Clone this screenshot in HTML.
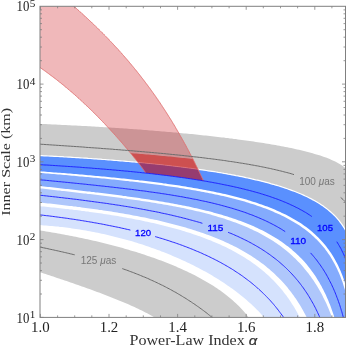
<!DOCTYPE html>
<html><head><meta charset="utf-8"><style>
html,body{margin:0;padding:0;background:#fff;width:346px;height:349px;overflow:hidden}
svg{display:block;font-family:"Liberation Sans",sans-serif;filter:blur(0.3px)}
</style></head><body>
<svg width="346" height="349" viewBox="0 0 346 349">
<rect width="346" height="349" fill="#fff"/>
<defs><clipPath id="plot"><rect x="40.0" y="6.3" width="305.5" height="311.09999999999997"/></clipPath>
<clipPath id="redclip"><polygon points="58.0,-20.0 60.0,-5.5 60.8,-4.9 61.5,-4.2 62.3,-3.6 63.1,-3.0 63.8,-2.3 64.6,-1.7 65.4,-1.0 66.1,-0.4 66.9,0.3 67.7,0.9 68.4,1.6 69.2,2.2 69.9,2.9 70.7,3.5 71.5,4.2 72.2,4.8 73.0,5.5 73.7,6.2 74.5,6.8 75.2,7.5 76.0,8.1 76.7,8.8 77.5,9.5 78.2,10.1 79.0,10.8 79.7,11.5 80.5,12.1 81.2,12.8 81.9,13.5 82.7,14.2 83.4,14.8 84.2,15.5 84.9,16.2 85.6,16.9 86.4,17.5 87.1,18.2 87.8,18.9 88.6,19.6 89.3,20.3 90.0,21.0 90.8,21.7 91.5,22.3 92.2,23.0 92.9,23.7 93.7,24.4 94.4,25.1 95.1,25.8 95.8,26.5 96.5,27.2 97.3,27.9 98.0,28.6 98.7,29.3 99.4,30.0 100.1,30.7 100.8,31.4 101.5,32.1 102.2,32.8 103.0,33.5 103.7,34.2 104.4,35.0 105.1,35.7 105.8,36.4 106.5,37.1 107.2,37.8 107.9,38.5 108.6,39.3 109.2,40.0 109.9,40.7 110.6,41.4 111.3,42.2 112.0,42.9 112.7,43.6 113.4,44.4 114.1,45.1 114.7,45.8 115.4,46.6 116.1,47.3 116.8,48.0 117.5,48.8 118.1,49.5 118.8,50.2 119.5,51.0 120.1,51.7 120.8,52.5 121.5,53.2 122.1,54.0 122.8,54.7 123.5,55.5 124.1,56.2 124.8,57.0 125.4,57.7 126.1,58.5 126.8,59.3 127.4,60.0 128.1,60.8 128.7,61.5 129.3,62.3 130.0,63.1 130.6,63.8 131.3,64.6 131.9,65.4 132.6,66.2 133.2,66.9 133.8,67.7 134.5,68.5 135.1,69.3 135.7,70.0 136.4,70.8 137.0,71.6 137.6,72.4 138.2,73.2 138.9,73.9 139.5,74.7 140.1,75.5 140.7,76.3 141.3,77.1 141.9,77.9 142.6,78.7 143.2,79.5 143.8,80.3 144.4,81.1 145.0,81.9 145.6,82.7 146.2,83.5 146.8,84.3 147.4,85.1 148.0,85.9 148.6,86.7 149.2,87.5 149.8,88.3 150.4,89.1 150.9,89.9 151.5,90.7 152.1,91.5 152.7,92.4 153.3,93.2 153.9,94.0 154.4,94.8 155.0,95.6 155.6,96.4 156.2,97.3 156.7,98.1 157.3,98.9 157.9,99.7 158.4,100.6 159.0,101.4 159.6,102.2 160.1,103.0 160.7,103.9 161.2,104.7 161.8,105.5 162.3,106.4 162.9,107.2 163.4,108.1 164.0,108.9 164.5,109.7 165.1,110.6 165.6,111.4 166.2,112.3 166.7,113.1 167.2,113.9 167.8,114.8 168.3,115.6 168.8,116.5 169.4,117.3 169.9,118.2 170.4,119.0 171.0,119.9 171.5,120.7 172.0,121.6 172.5,122.4 173.0,123.3 173.6,124.2 174.1,125.0 174.6,125.9 175.1,126.7 175.6,127.6 176.1,128.5 176.6,129.3 177.1,130.2 177.6,131.1 178.1,131.9 178.7,132.8 179.2,133.7 179.6,134.5 180.1,135.4 180.6,136.3 181.1,137.1 181.6,138.0 182.1,138.9 182.6,139.8 183.1,140.6 183.6,141.5 184.1,142.4 184.5,143.3 185.0,144.1 185.5,145.0 186.0,145.9 186.5,146.8 186.9,147.7 187.4,148.5 187.9,149.4 188.3,150.3 188.8,151.2 189.3,152.1 189.7,153.0 190.2,153.9 190.7,154.8 191.1,155.6 191.6,156.5 192.0,157.4 192.5,158.3 193.0,159.2 193.4,160.1 193.9,161.0 194.3,161.9 194.8,162.8 195.2,163.7 195.6,164.6 196.1,165.5 196.5,166.4 197.0,167.3 197.4,168.2 197.9,169.1 198.3,170.0 198.7,170.9 199.2,171.8 199.6,172.7 200.0,173.6 200.4,174.5 200.9,175.4 201.3,176.3 201.7,177.2 202.2,178.1 202.6,179.0 203.0,179.9 203.4,180.8 203.8,180.9 201.4,180.5 199.0,180.1 196.6,179.8 194.2,179.4 191.8,179.0 189.4,178.7 187.0,178.3 184.6,177.9 182.2,177.6 179.8,177.3 177.4,176.9 175.0,176.6 172.6,176.3 170.2,176.0 167.8,175.7 165.4,175.4 163.0,175.1 160.6,174.8 158.2,174.5 155.8,174.2 153.4,173.9 151.0,173.7 148.6,173.4 146.2,173.1 145.7,173.0 145.2,172.2 144.7,171.3 144.1,170.5 143.5,169.7 142.9,168.8 142.3,168.0 141.7,167.2 141.1,166.4 140.5,165.6 139.9,164.8 139.3,164.0 138.7,163.2 138.1,162.4 137.5,161.7 136.8,160.9 136.2,160.1 135.6,159.3 135.0,158.5 134.3,157.7 133.7,156.9 133.1,156.2 132.4,155.4 131.8,154.6 131.2,153.8 130.5,153.1 129.9,152.3 129.2,151.5 128.6,150.7 128.0,150.0 127.3,149.2 126.7,148.4 126.0,147.7 125.4,146.9 124.7,146.1 124.1,145.4 123.4,144.6 122.8,143.8 122.1,143.1 121.4,142.3 120.8,141.6 120.1,140.8 119.5,140.0 118.8,139.3 118.1,138.5 117.5,137.8 116.8,137.0 116.1,136.3 115.5,135.5 114.8,134.8 114.1,134.0 113.5,133.3 112.8,132.6 112.1,131.8 111.4,131.1 110.7,130.3 110.1,129.6 109.4,128.8 108.7,128.1 108.0,127.4 107.3,126.6 106.6,125.9 106.0,125.2 105.3,124.4 104.6,123.7 103.9,123.0 103.2,122.3 102.5,121.5 101.8,120.8 101.1,120.1 100.4,119.4 99.7,118.7 99.0,117.9 98.3,117.2 97.6,116.5 96.9,115.8 96.2,115.1 95.5,114.4 94.8,113.7 94.0,112.9 93.3,112.2 92.6,111.5 91.9,110.8 91.2,110.1 90.5,109.4 89.7,108.7 89.0,108.0 88.3,107.3 87.6,106.6 86.8,105.9 86.1,105.3 85.4,104.6 84.7,103.9 83.9,103.2 83.2,102.5 82.5,101.8 81.7,101.1 81.0,100.5 80.2,99.8 79.5,99.1 78.8,98.4 78.0,97.8 77.3,97.1 76.5,96.4 75.8,95.7 75.0,95.1 74.3,94.4 73.5,93.7 72.8,93.1 72.0,92.4 71.2,91.8 70.5,91.1 69.7,90.5 69.0,89.8 68.2,89.2 67.4,88.5 66.6,87.9 65.9,87.2 65.1,86.6 64.3,85.9 63.6,85.3 62.8,84.7 62.0,84.0 61.2,83.4 60.4,82.8 59.7,82.1 58.9,81.5 58.1,80.9 57.3,80.3 56.5,79.6 55.7,79.0 54.9,78.4 54.1,77.8 53.3,77.2 52.5,76.6 51.7,76.0 50.9,75.4 50.1,74.8 49.3,74.2 48.5,73.6 47.7,73.0 46.9,72.4 46.1,71.8 45.3,71.2 44.4,70.6 43.6,70.0 42.8,69.5 42.0,68.9 41.2,68.3 40.3,67.7 39.5,67.2 38.7,66.6 37.9,66.0 37.0,65.5 36.2,64.9 35.4,64.3 34.5,63.8 33.7,63.2 32.8,62.7 32.0,62.1 31.1,61.6 30.3,61.1 29.5,60.5 28.6,60.0 27.7,59.5 26.9,58.9 26.0,58.4 25.2,57.9 24.3,57.4 23.5,56.8 22.6,56.3 21.7,55.8 20.9,55.3 20.0,54.8 20.0,54.8 20.0,-20.0"/></clipPath></defs>
<g clip-path="url(#plot)">
<polygon points="36.0,123.7 38.0,123.8 40.0,123.9 42.0,124.0 44.0,124.0 46.0,124.1 48.0,124.2 50.0,124.3 52.0,124.4 54.0,124.5 56.0,124.6 58.0,124.7 60.0,124.8 62.0,124.9 64.0,125.0 66.0,125.1 68.0,125.2 70.0,125.3 72.0,125.4 74.0,125.5 76.1,125.6 78.1,125.7 80.1,125.8 82.1,125.9 84.1,126.0 86.1,126.1 88.1,126.2 90.1,126.3 92.1,126.4 94.1,126.6 96.1,126.7 98.1,126.8 100.1,126.9 102.1,127.0 104.1,127.2 106.1,127.3 108.1,127.4 110.1,127.5 112.1,127.7 114.1,127.8 116.1,127.9 118.1,128.1 120.1,128.2 122.1,128.3 124.1,128.5 126.1,128.6 128.1,128.7 130.1,128.9 132.1,129.0 134.1,129.2 136.1,129.3 138.1,129.5 140.1,129.6 142.1,129.8 144.1,129.9 146.1,130.1 148.1,130.2 150.1,130.4 152.1,130.6 154.1,130.7 156.1,130.9 158.1,131.0 160.1,131.2 162.1,131.4 164.1,131.5 166.0,131.7 168.0,131.9 170.0,132.1 172.0,132.2 174.0,132.4 176.0,132.6 178.0,132.8 180.0,133.0 182.0,133.2 184.0,133.4 186.0,133.5 188.0,133.7 190.0,133.9 192.0,134.1 194.0,134.3 196.0,134.5 198.0,134.7 200.0,134.9 202.0,135.2 204.0,135.4 206.0,135.6 207.9,135.8 209.9,136.0 211.9,136.2 213.9,136.5 215.9,136.7 217.9,136.9 219.9,137.2 221.9,137.4 223.9,137.6 225.9,137.9 227.9,138.1 229.9,138.4 231.8,138.6 233.8,138.9 235.8,139.1 237.8,139.4 239.8,139.7 241.8,139.9 243.8,140.2 245.8,140.5 247.7,140.7 249.7,141.0 251.7,141.3 253.7,141.6 255.7,141.9 257.7,142.2 259.6,142.5 261.6,142.8 263.6,143.1 265.6,143.4 267.6,143.8 269.5,144.1 271.5,144.4 273.5,144.8 275.5,145.1 277.4,145.5 279.4,145.8 281.4,146.2 283.3,146.6 285.3,146.9 287.3,147.3 289.2,147.7 291.2,148.1 293.2,148.5 295.1,149.0 297.1,149.4 299.0,149.8 301.0,150.3 302.9,150.8 304.9,151.2 306.8,151.7 308.8,152.2 310.7,152.8 312.6,153.3 314.6,153.9 316.5,154.4 318.4,155.0 320.3,155.6 322.2,156.3 324.1,156.9 326.0,157.6 327.9,158.3 329.7,159.1 331.6,159.9 333.4,160.7 335.2,161.6 337.0,162.5 338.7,163.5 340.5,164.5 342.1,165.6 343.8,166.7 345.3,168.0 346.9,169.3 348.3,170.7 349.6,172.2 350.9,173.8 352.0,175.4 362.0,430.0 352.0,245.5 351.4,243.6 350.7,241.7 350.0,239.8 349.3,238.0 348.5,236.1 347.6,234.3 346.7,232.5 345.8,230.7 344.8,229.0 343.8,227.3 342.7,225.6 341.5,223.9 340.3,222.3 339.1,220.7 337.8,219.2 336.5,217.7 335.1,216.2 333.7,214.8 332.2,213.4 330.7,212.0 329.2,210.7 327.6,209.4 326.1,208.2 324.4,207.0 322.8,205.8 321.1,204.7 319.4,203.6 317.7,202.6 316.0,201.5 314.3,200.5 312.5,199.6 310.7,198.6 308.9,197.7 307.1,196.8 305.3,196.0 303.5,195.1 301.6,194.3 299.8,193.5 297.9,192.7 296.1,192.0 294.2,191.3 292.3,190.6 290.4,189.9 288.5,189.2 286.6,188.5 284.7,187.9 282.8,187.2 280.9,186.6 279.0,186.0 277.0,185.4 275.1,184.9 273.2,184.3 271.3,183.8 269.3,183.2 267.4,182.7 265.4,182.2 263.5,181.7 261.5,181.2 259.6,180.7 257.6,180.2 255.7,179.8 253.7,179.3 251.7,178.9 249.8,178.4 247.8,178.0 245.8,177.6 243.9,177.1 241.9,176.7 239.9,176.3 238.0,175.9 236.0,175.6 234.0,175.2 232.0,174.8 230.1,174.4 228.1,174.1 226.1,173.7 224.1,173.4 222.1,173.0 220.2,172.7 218.2,172.4 216.2,172.0 214.2,171.7 212.2,171.4 210.2,171.1 208.2,170.8 206.3,170.5 204.3,170.2 202.3,169.9 200.3,169.6 198.3,169.3 196.3,169.0 194.3,168.8 192.3,168.5 190.3,168.2 188.3,168.0 186.3,167.7 184.3,167.4 182.3,167.2 180.3,166.9 178.3,166.7 176.3,166.4 174.4,166.2 172.4,166.0 170.4,165.7 168.4,165.5 166.4,165.3 164.4,165.1 162.4,164.8 160.4,164.6 158.4,164.4 156.4,164.2 154.4,164.0 152.4,163.8 150.4,163.6 148.4,163.4 146.4,163.2 144.4,163.0 142.3,162.8 140.3,162.6 138.3,162.4 136.3,162.2 134.3,162.0 132.3,161.8 130.3,161.7 128.3,161.5 126.3,161.3 124.3,161.1 122.3,161.0 120.3,160.8 118.3,160.6 116.3,160.5 114.3,160.3 112.3,160.1 110.3,160.0 108.3,159.8 106.3,159.7 104.3,159.5 102.3,159.4 100.3,159.2 98.2,159.1 96.2,158.9 94.2,158.8 92.2,158.7 90.2,158.5 88.2,158.4 86.2,158.2 84.2,158.1 82.2,158.0 80.2,157.8 78.2,157.7 76.2,157.6 74.2,157.5 72.2,157.3 70.1,157.2 68.1,157.1 66.1,157.0 64.1,156.9 62.1,156.7 60.1,156.6 58.1,156.5 56.1,156.4 54.1,156.3 52.1,156.2 50.1,156.1 48.1,156.0 46.0,155.9 44.0,155.8 42.0,155.7 40.0,155.6 38.0,155.5 36.0,155.4" fill="#cccccc"/>
<polygon points="36.0,155.4 38.0,155.5 40.0,155.6 42.0,155.7 44.0,155.8 46.0,155.9 48.1,156.0 50.1,156.1 52.1,156.2 54.1,156.3 56.1,156.4 58.1,156.5 60.1,156.6 62.1,156.7 64.1,156.9 66.1,157.0 68.1,157.1 70.1,157.2 72.2,157.3 74.2,157.5 76.2,157.6 78.2,157.7 80.2,157.8 82.2,158.0 84.2,158.1 86.2,158.2 88.2,158.4 90.2,158.5 92.2,158.7 94.2,158.8 96.2,158.9 98.2,159.1 100.3,159.2 102.3,159.4 104.3,159.5 106.3,159.7 108.3,159.8 110.3,160.0 112.3,160.1 114.3,160.3 116.3,160.5 118.3,160.6 120.3,160.8 122.3,161.0 124.3,161.1 126.3,161.3 128.3,161.5 130.3,161.7 132.3,161.8 134.3,162.0 136.3,162.2 138.3,162.4 140.3,162.6 142.3,162.8 144.4,163.0 146.4,163.2 148.4,163.4 150.4,163.6 152.4,163.8 154.4,164.0 156.4,164.2 158.4,164.4 160.4,164.6 162.4,164.8 164.4,165.1 166.4,165.3 168.4,165.5 170.4,165.7 172.4,166.0 174.4,166.2 176.3,166.4 178.3,166.7 180.3,166.9 182.3,167.2 184.3,167.4 186.3,167.7 188.3,168.0 190.3,168.2 192.3,168.5 194.3,168.8 196.3,169.0 198.3,169.3 200.3,169.6 202.3,169.9 204.3,170.2 206.3,170.5 208.2,170.8 210.2,171.1 212.2,171.4 214.2,171.7 216.2,172.0 218.2,172.4 220.2,172.7 222.1,173.0 224.1,173.4 226.1,173.7 228.1,174.1 230.1,174.4 232.0,174.8 234.0,175.2 236.0,175.6 238.0,175.9 239.9,176.3 241.9,176.7 243.9,177.1 245.8,177.6 247.8,178.0 249.8,178.4 251.7,178.9 253.7,179.3 255.7,179.8 257.6,180.2 259.6,180.7 261.5,181.2 263.5,181.7 265.4,182.2 267.4,182.7 269.3,183.2 271.3,183.8 273.2,184.3 275.1,184.9 277.0,185.4 279.0,186.0 280.9,186.6 282.8,187.2 284.7,187.9 286.6,188.5 288.5,189.2 290.4,189.9 292.3,190.6 294.2,191.3 296.1,192.0 297.9,192.7 299.8,193.5 301.6,194.3 303.5,195.1 305.3,196.0 307.1,196.8 308.9,197.7 310.7,198.6 312.5,199.6 314.3,200.5 316.0,201.5 317.7,202.6 319.4,203.6 321.1,204.7 322.8,205.8 324.4,207.0 326.1,208.2 327.6,209.4 329.2,210.7 330.7,212.0 332.2,213.4 333.7,214.8 335.1,216.2 336.5,217.7 337.8,219.2 339.1,220.7 340.3,222.3 341.5,223.9 342.7,225.6 343.8,227.3 344.8,229.0 345.8,230.7 346.7,232.5 347.6,234.3 348.5,236.1 349.3,238.0 350.0,239.8 350.7,241.7 351.4,243.6 352.0,245.5 362.0,430.0 352.0,313.2 351.7,311.2 351.3,309.2 351.0,307.3 350.6,305.3 350.2,303.3 349.8,301.4 349.4,299.4 349.0,297.4 348.5,295.5 348.0,293.5 347.5,291.6 347.0,289.7 346.5,287.7 345.9,285.8 345.3,283.9 344.7,282.0 344.1,280.1 343.4,278.2 342.7,276.3 342.0,274.4 341.2,272.6 340.5,270.7 339.7,268.9 338.8,267.1 338.0,265.3 337.1,263.5 336.1,261.7 335.2,259.9 334.2,258.2 333.2,256.5 332.1,254.8 331.0,253.1 329.9,251.4 328.7,249.8 327.5,248.2 326.3,246.6 325.1,245.0 323.8,243.5 322.5,241.9 321.1,240.5 319.7,239.0 318.3,237.6 316.9,236.2 315.4,234.8 314.0,233.4 312.4,232.1 310.9,230.8 309.4,229.6 307.8,228.3 306.2,227.1 304.6,225.9 302.9,224.8 301.3,223.6 299.6,222.5 297.9,221.5 296.2,220.4 294.5,219.4 292.7,218.4 291.0,217.4 289.2,216.5 287.4,215.5 285.6,214.6 283.8,213.7 282.0,212.9 280.2,212.0 278.4,211.2 276.6,210.4 274.7,209.6 272.9,208.8 271.0,208.1 269.1,207.3 267.3,206.6 265.4,205.9 263.5,205.2 261.6,204.5 259.7,203.9 257.8,203.2 255.9,202.6 254.0,202.0 252.1,201.4 250.2,200.8 248.3,200.2 246.3,199.6 244.4,199.1 242.5,198.6 240.5,198.0 238.6,197.5 236.7,197.0 234.7,196.5 232.8,196.0 230.8,195.5 228.9,195.0 226.9,194.6 225.0,194.1 223.0,193.7 221.1,193.2 219.1,192.8 217.1,192.4 215.2,192.0 213.2,191.6 211.2,191.2 209.3,190.8 207.3,190.4 205.3,190.0 203.4,189.7 201.4,189.3 199.4,188.9 197.4,188.6 195.5,188.2 193.5,187.9 191.5,187.6 189.5,187.2 187.6,186.9 185.6,186.6 183.6,186.3 181.6,185.9 179.6,185.6 177.7,185.3 175.7,185.0 173.7,184.8 171.7,184.5 169.7,184.2 167.7,183.9 165.7,183.6 163.8,183.4 161.8,183.1 159.8,182.8 157.8,182.6 155.8,182.3 153.8,182.0 151.8,181.8 149.8,181.5 147.8,181.3 145.8,181.1 143.9,180.8 141.9,180.6 139.9,180.4 137.9,180.1 135.9,179.9 133.9,179.7 131.9,179.5 129.9,179.2 127.9,179.0 125.9,178.8 123.9,178.6 121.9,178.4 119.9,178.2 117.9,178.0 115.9,177.8 113.9,177.6 112.0,177.4 110.0,177.2 108.0,177.0 106.0,176.8 104.0,176.6 102.0,176.4 100.0,176.2 98.0,176.0 96.0,175.9 94.0,175.7 92.0,175.5 90.0,175.3 88.0,175.2 86.0,175.0 84.0,174.8 82.0,174.6 80.0,174.5 78.0,174.3 76.0,174.1 74.0,174.0 72.0,173.8 70.0,173.6 68.0,173.5 66.0,173.3 64.0,173.1 62.0,173.0 60.0,172.8 58.0,172.7 56.0,172.5 54.0,172.4 52.0,172.2 50.0,172.1 48.0,171.9 46.0,171.8 44.0,171.6 42.0,171.5 40.0,171.3 38.0,171.2 36.0,171.0" fill="#5a90fe"/>
<polygon points="36.0,172.7 38.0,172.8 40.0,173.0 42.0,173.1 44.0,173.3 46.0,173.5 48.0,173.6 50.0,173.8 52.0,174.0 54.0,174.1 56.0,174.3 58.0,174.5 60.0,174.6 62.0,174.8 64.0,175.0 66.0,175.1 68.0,175.3 70.0,175.5 72.0,175.7 74.0,175.8 76.0,176.0 78.0,176.2 80.0,176.4 82.0,176.5 84.0,176.7 86.0,176.9 88.0,177.1 90.0,177.3 92.0,177.5 94.0,177.7 96.0,177.8 98.0,178.0 100.0,178.2 102.0,178.4 104.0,178.6 106.0,178.8 108.0,179.0 110.0,179.2 112.0,179.4 114.0,179.6 116.0,179.8 118.0,180.1 120.0,180.3 122.0,180.5 124.0,180.7 126.0,180.9 128.0,181.1 130.0,181.4 132.0,181.6 134.0,181.8 136.0,182.0 138.0,182.3 140.0,182.5 142.0,182.8 144.0,183.0 145.9,183.2 147.9,183.5 149.9,183.7 151.9,184.0 153.9,184.3 155.9,184.5 157.9,184.8 159.9,185.0 161.9,185.3 163.9,185.6 165.9,185.9 167.8,186.2 169.8,186.4 171.8,186.7 173.8,187.0 175.8,187.3 177.8,187.6 179.8,187.9 181.7,188.2 183.7,188.6 185.7,188.9 187.7,189.2 189.7,189.5 191.7,189.9 193.6,190.2 195.6,190.6 197.6,190.9 199.6,191.3 201.5,191.7 203.5,192.0 205.5,192.4 207.5,192.8 209.4,193.2 211.4,193.6 213.4,194.0 215.3,194.4 217.3,194.8 219.3,195.2 221.2,195.7 223.2,196.1 225.1,196.6 227.1,197.0 229.0,197.5 231.0,198.0 232.9,198.5 234.9,199.0 236.8,199.5 238.8,200.0 240.7,200.5 242.6,201.1 244.6,201.6 246.5,202.2 248.4,202.8 250.3,203.4 252.3,204.0 254.2,204.6 256.1,205.2 258.0,205.9 259.9,206.5 261.8,207.2 263.7,207.9 265.5,208.6 267.4,209.3 269.3,210.0 271.1,210.8 273.0,211.6 274.8,212.4 276.7,213.2 278.5,214.0 280.3,214.8 282.1,215.7 283.9,216.6 285.7,217.5 287.5,218.4 289.3,219.4 291.0,220.4 292.8,221.4 294.5,222.4 296.2,223.5 297.9,224.5 299.6,225.6 301.2,226.8 302.9,227.9 304.5,229.1 306.1,230.3 307.7,231.6 309.2,232.8 310.8,234.1 312.3,235.4 313.8,236.8 315.2,238.2 316.7,239.6 318.1,241.0 319.5,242.5 320.8,244.0 322.1,245.5 323.4,247.0 324.7,248.6 325.9,250.2 327.1,251.8 328.2,253.4 329.4,255.1 330.5,256.8 331.5,258.5 332.5,260.2 333.5,262.0 334.5,263.7 335.4,265.5 336.3,267.3 337.2,269.1 338.0,270.9 338.9,272.8 339.6,274.6 340.4,276.5 341.1,278.4 341.8,280.2 342.5,282.1 343.1,284.0 343.7,286.0 344.3,287.9 344.9,289.8 345.4,291.7 345.9,293.7 346.5,295.6 346.9,297.6 347.4,299.5 347.8,301.5 348.3,303.4 348.7,305.4 349.1,307.4 349.4,309.4 349.8,311.3 350.1,313.3 350.5,315.3 350.8,317.3 351.1,319.3 351.4,321.2 351.7,323.2 351.9,325.2 362.0,430.0 336.7,325.2 336.1,323.2 335.6,321.3 335.0,319.4 334.4,317.5 333.8,315.6 333.2,313.7 332.5,311.8 331.9,309.9 331.2,308.0 330.5,306.1 329.8,304.3 329.0,302.4 328.3,300.5 327.5,298.7 326.7,296.9 325.9,295.0 325.0,293.2 324.1,291.4 323.2,289.6 322.3,287.9 321.4,286.1 320.4,284.4 319.4,282.6 318.4,280.9 317.3,279.2 316.3,277.5 315.2,275.8 314.1,274.2 312.9,272.5 311.7,270.9 310.5,269.3 309.3,267.7 308.1,266.2 306.8,264.6 305.5,263.1 304.2,261.6 302.8,260.1 301.4,258.6 300.0,257.2 298.6,255.8 297.2,254.4 295.7,253.0 294.2,251.7 292.7,250.4 291.2,249.1 289.6,247.8 288.1,246.6 286.5,245.4 284.9,244.2 283.3,243.0 281.6,241.8 280.0,240.7 278.3,239.6 276.6,238.5 274.9,237.4 273.2,236.4 271.5,235.4 269.8,234.4 268.0,233.4 266.3,232.5 264.5,231.5 262.7,230.6 260.9,229.7 259.1,228.9 257.3,228.0 255.5,227.2 253.7,226.3 251.8,225.5 250.0,224.8 248.1,224.0 246.3,223.2 244.4,222.5 242.5,221.8 240.7,221.1 238.8,220.4 236.9,219.7 235.0,219.1 233.1,218.4 231.2,217.8 229.3,217.2 227.4,216.6 225.5,216.0 223.6,215.4 221.7,214.8 219.7,214.3 217.8,213.7 215.9,213.2 213.9,212.7 212.0,212.1 210.1,211.6 208.1,211.1 206.2,210.7 204.3,210.2 202.3,209.7 200.4,209.2 198.4,208.8 196.5,208.3 194.5,207.9 192.5,207.5 190.6,207.1 188.6,206.6 186.7,206.2 184.7,205.8 182.7,205.4 180.8,205.1 178.8,204.7 176.9,204.3 174.9,203.9 172.9,203.6 170.9,203.2 169.0,202.8 167.0,202.5 165.0,202.2 163.1,201.8 161.1,201.5 159.1,201.2 157.1,200.8 155.2,200.5 153.2,200.2 151.2,199.9 149.2,199.6 147.3,199.3 145.3,199.0 143.3,198.7 141.3,198.4 139.3,198.1 137.4,197.8 135.4,197.5 133.4,197.2 131.4,197.0 129.4,196.7 127.4,196.4 125.5,196.1 123.5,195.9 121.5,195.6 119.5,195.3 117.5,195.1 115.5,194.8 113.5,194.6 111.6,194.3 109.6,194.1 107.6,193.8 105.6,193.6 103.6,193.3 101.6,193.1 99.6,192.8 97.7,192.6 95.7,192.4 93.7,192.1 91.7,191.9 89.7,191.6 87.7,191.4 85.7,191.2 83.7,190.9 81.8,190.7 79.8,190.5 77.8,190.3 75.8,190.0 73.8,189.8 71.8,189.6 69.8,189.3 67.8,189.1 65.8,188.9 63.9,188.7 61.9,188.4 59.9,188.2 57.9,188.0 55.9,187.8 53.9,187.6 51.9,187.3 49.9,187.1 47.9,186.9 45.9,186.7 44.0,186.5 42.0,186.2 40.0,186.0 38.0,185.8 36.0,185.6" fill="#84abfd"/>
<polygon points="36.0,187.9 38.0,188.1 40.0,188.4 42.0,188.6 44.0,188.8 46.0,189.1 48.0,189.3 50.0,189.5 52.0,189.7 54.0,190.0 56.0,190.2 57.9,190.4 59.9,190.6 61.9,190.9 63.9,191.1 65.9,191.3 67.9,191.5 69.9,191.8 71.9,192.0 73.9,192.2 75.9,192.5 77.9,192.7 79.9,192.9 81.9,193.2 83.9,193.4 85.9,193.6 87.9,193.9 89.9,194.1 91.9,194.3 93.9,194.6 95.9,194.8 97.8,195.1 99.8,195.3 101.8,195.5 103.8,195.8 105.8,196.0 107.8,196.3 109.8,196.5 111.8,196.8 113.8,197.0 115.8,197.3 117.8,197.6 119.8,197.8 121.8,198.1 123.7,198.4 125.7,198.6 127.7,198.9 129.7,199.2 131.7,199.4 133.7,199.7 135.7,200.0 137.7,200.3 139.7,200.6 141.6,200.9 143.6,201.2 145.6,201.5 147.6,201.8 149.6,202.1 151.6,202.4 153.5,202.7 155.5,203.1 157.5,203.4 159.5,203.7 161.5,204.1 163.4,204.4 165.4,204.7 167.4,205.1 169.4,205.5 171.4,205.8 173.3,206.2 175.3,206.6 177.3,206.9 179.2,207.3 181.2,207.7 183.2,208.1 185.1,208.5 187.1,209.0 189.1,209.4 191.0,209.8 193.0,210.3 194.9,210.7 196.9,211.2 198.9,211.6 200.8,212.1 202.8,212.6 204.7,213.1 206.6,213.6 208.6,214.1 210.5,214.6 212.5,215.2 214.4,215.7 216.3,216.3 218.2,216.9 220.2,217.4 222.1,218.0 224.0,218.6 225.9,219.3 227.8,219.9 229.7,220.5 231.6,221.2 233.5,221.9 235.4,222.6 237.3,223.3 239.1,224.0 241.0,224.7 242.9,225.5 244.7,226.3 246.6,227.0 248.4,227.8 250.2,228.7 252.1,229.5 253.9,230.4 255.7,231.2 257.5,232.1 259.3,233.1 261.1,234.0 262.8,234.9 264.6,235.9 266.3,236.9 268.1,237.9 269.8,239.0 271.5,240.0 273.2,241.1 274.9,242.2 276.5,243.3 278.2,244.5 279.8,245.6 281.4,246.8 283.0,248.0 284.6,249.3 286.2,250.5 287.7,251.8 289.2,253.1 290.8,254.4 292.2,255.8 293.7,257.2 295.2,258.5 296.6,260.0 298.0,261.4 299.4,262.8 300.8,264.3 302.1,265.8 303.4,267.3 304.7,268.9 306.0,270.4 307.2,272.0 308.5,273.6 309.7,275.2 310.9,276.8 312.0,278.4 313.2,280.1 314.3,281.7 315.4,283.4 316.4,285.1 317.5,286.8 318.5,288.6 319.5,290.3 320.5,292.1 321.5,293.8 322.4,295.6 323.3,297.4 324.2,299.2 325.1,301.0 326.0,302.8 326.8,304.6 327.6,306.5 328.4,308.3 329.2,310.2 329.9,312.0 330.7,313.9 331.4,315.8 332.1,317.6 332.8,319.5 333.5,321.4 334.1,323.3 334.8,325.2 362.0,430.0 310.3,325.1 309.5,323.3 308.6,321.4 307.8,319.6 306.9,317.8 306.0,316.0 305.1,314.3 304.1,312.5 303.2,310.7 302.2,309.0 301.2,307.3 300.2,305.6 299.1,303.8 298.1,302.2 297.0,300.5 295.9,298.8 294.7,297.2 293.6,295.5 292.4,293.9 291.2,292.3 290.0,290.7 288.7,289.2 287.5,287.6 286.2,286.1 284.9,284.6 283.6,283.1 282.2,281.6 280.8,280.1 279.5,278.7 278.0,277.3 276.6,275.9 275.2,274.5 273.7,273.1 272.2,271.8 270.7,270.4 269.2,269.1 267.7,267.9 266.1,266.6 264.6,265.3 263.0,264.1 261.4,262.9 259.8,261.7 258.2,260.6 256.5,259.4 254.9,258.3 253.2,257.2 251.5,256.1 249.8,255.0 248.1,254.0 246.4,252.9 244.7,251.9 243.0,250.9 241.2,250.0 239.5,249.0 237.7,248.1 235.9,247.1 234.1,246.2 232.3,245.3 230.5,244.5 228.7,243.6 226.9,242.7 225.1,241.9 223.3,241.1 221.4,240.3 219.6,239.5 217.8,238.8 215.9,238.0 214.0,237.3 212.2,236.5 210.3,235.8 208.4,235.1 206.6,234.4 204.7,233.7 202.8,233.1 200.9,232.4 199.0,231.8 197.1,231.2 195.2,230.5 193.3,229.9 191.4,229.3 189.5,228.7 187.6,228.2 185.7,227.6 183.7,227.0 181.8,226.5 179.9,225.9 178.0,225.4 176.0,224.9 174.1,224.4 172.2,223.9 170.2,223.4 168.3,222.9 166.3,222.4 164.4,222.0 162.4,221.5 160.5,221.0 158.6,220.6 156.6,220.1 154.6,219.7 152.7,219.3 150.7,218.9 148.8,218.4 146.8,218.0 144.9,217.6 142.9,217.2 140.9,216.9 139.0,216.5 137.0,216.1 135.0,215.7 133.1,215.4 131.1,215.0 129.1,214.6 127.2,214.3 125.2,213.9 123.2,213.6 121.3,213.3 119.3,212.9 117.3,212.6 115.3,212.3 113.4,212.0 111.4,211.6 109.4,211.3 107.4,211.0 105.5,210.7 103.5,210.4 101.5,210.1 99.5,209.9 97.6,209.6 95.6,209.3 93.6,209.0 91.6,208.7 89.6,208.5 87.6,208.2 85.7,207.9 83.7,207.7 81.7,207.4 79.7,207.1 77.7,206.9 75.7,206.6 73.8,206.4 71.8,206.1 69.8,205.9 67.8,205.7 65.8,205.4 63.8,205.2 61.8,205.0 59.9,204.7 57.9,204.5 55.9,204.3 53.9,204.0 51.9,203.8 49.9,203.6 47.9,203.4 45.9,203.2 44.0,203.0 42.0,202.7 40.0,202.5 38.0,202.3 36.0,202.1" fill="#afc7fb"/>
<polygon points="36.0,205.8 38.0,206.0 40.0,206.2 42.0,206.4 44.0,206.6 46.0,206.8 48.0,207.0 50.0,207.2 52.0,207.4 54.0,207.6 56.0,207.8 58.0,208.0 60.0,208.2 62.0,208.5 64.0,208.7 66.0,208.9 68.0,209.1 70.0,209.4 72.0,209.6 74.0,209.9 76.0,210.1 78.0,210.3 80.0,210.6 82.0,210.9 84.0,211.1 86.0,211.4 88.0,211.6 89.9,211.9 91.9,212.2 93.9,212.5 95.9,212.7 97.9,213.0 99.9,213.3 101.9,213.6 103.9,213.9 105.9,214.2 107.9,214.5 109.8,214.8 111.8,215.2 113.8,215.5 115.8,215.8 117.8,216.1 119.8,216.5 121.7,216.8 123.7,217.2 125.7,217.5 127.7,217.9 129.7,218.2 131.6,218.6 133.6,219.0 135.6,219.4 137.6,219.8 139.5,220.1 141.5,220.6 143.5,221.0 145.4,221.4 147.4,221.8 149.4,222.2 151.3,222.7 153.3,223.1 155.3,223.5 157.2,224.0 159.2,224.5 161.1,224.9 163.1,225.4 165.0,225.9 167.0,226.4 168.9,226.9 170.9,227.4 172.8,228.0 174.7,228.5 176.7,229.0 178.6,229.6 180.5,230.1 182.5,230.7 184.4,231.3 186.3,231.9 188.2,232.5 190.2,233.1 192.1,233.7 194.0,234.4 195.9,235.0 197.8,235.7 199.7,236.3 201.6,237.0 203.5,237.7 205.3,238.4 207.2,239.2 209.1,239.9 211.0,240.6 212.8,241.4 214.7,242.2 216.5,243.0 218.4,243.8 220.2,244.6 222.0,245.4 223.8,246.3 225.7,247.1 227.5,248.0 229.3,248.9 231.1,249.8 232.8,250.8 234.6,251.7 236.4,252.7 238.1,253.7 239.9,254.7 241.6,255.7 243.3,256.8 245.0,257.8 246.7,258.9 248.4,260.0 250.1,261.1 251.7,262.2 253.4,263.4 255.0,264.6 256.6,265.8 258.2,267.0 259.8,268.2 261.4,269.5 262.9,270.8 264.5,272.1 266.0,273.4 267.5,274.7 269.0,276.1 270.4,277.5 271.9,278.9 273.3,280.3 274.7,281.7 276.1,283.2 277.4,284.7 278.8,286.2 280.1,287.7 281.4,289.2 282.7,290.8 283.9,292.4 285.1,294.0 286.4,295.6 287.5,297.2 288.7,298.8 289.8,300.5 291.0,302.2 292.0,303.9 293.1,305.6 294.2,307.3 295.2,309.0 296.2,310.8 297.2,312.5 298.1,314.3 299.1,316.1 300.0,317.9 300.9,319.7 301.7,321.5 302.6,323.3 303.4,325.1 362.0,430.0 269.9,325.0 268.7,323.4 267.5,321.8 266.2,320.2 265.0,318.7 263.7,317.1 262.4,315.6 261.0,314.1 259.7,312.6 258.3,311.1 256.9,309.7 255.5,308.3 254.0,306.8 252.6,305.5 251.1,304.1 249.6,302.7 248.1,301.4 246.6,300.1 245.1,298.7 243.6,297.5 242.0,296.2 240.4,294.9 238.9,293.7 237.3,292.4 235.7,291.2 234.0,290.0 232.4,288.8 230.8,287.7 229.1,286.5 227.5,285.4 225.8,284.2 224.1,283.1 222.5,282.0 220.8,280.9 219.1,279.8 217.4,278.8 215.7,277.7 213.9,276.7 212.2,275.6 210.5,274.6 208.7,273.6 207.0,272.6 205.2,271.6 203.5,270.7 201.7,269.7 199.9,268.8 198.1,267.8 196.4,266.9 194.6,266.0 192.8,265.1 191.0,264.2 189.2,263.3 187.3,262.4 185.5,261.6 183.7,260.7 181.9,259.9 180.0,259.1 178.2,258.3 176.4,257.4 174.5,256.7 172.7,255.9 170.8,255.1 168.9,254.3 167.1,253.6 165.2,252.8 163.3,252.1 161.5,251.4 159.6,250.6 157.7,249.9 155.8,249.2 153.9,248.6 152.0,247.9 150.1,247.2 148.2,246.6 146.3,245.9 144.4,245.3 142.5,244.6 140.6,244.0 138.7,243.4 136.8,242.8 134.8,242.2 132.9,241.6 131.0,241.1 129.0,240.5 127.1,240.0 125.2,239.4 123.2,238.9 121.3,238.4 119.3,237.9 117.4,237.4 115.4,236.9 113.5,236.4 111.5,235.9 109.6,235.4 107.6,235.0 105.7,234.5 103.7,234.1 101.7,233.7 99.8,233.3 97.8,232.8 95.8,232.5 93.8,232.1 91.9,231.7 89.9,231.3 87.9,230.9 85.9,230.6 83.9,230.3 82.0,229.9 80.0,229.6 78.0,229.3 76.0,229.0 74.0,228.7 72.0,228.4 70.0,228.1 68.0,227.8 66.0,227.6 64.0,227.3 62.0,227.1 60.0,226.9 58.1,226.6 56.0,226.4 54.0,226.2 52.0,226.0 50.0,225.9 48.0,225.7 46.0,225.5 44.0,225.4 42.0,225.2 40.0,225.1 38.0,224.9 36.0,224.8" fill="#d5e2fd"/>
<polygon points="36.0,229.9 38.0,230.2 40.0,230.5 42.0,230.8 44.0,231.1 46.0,231.4 48.0,231.8 49.9,232.1 51.9,232.4 53.9,232.8 55.9,233.1 57.9,233.5 59.9,233.8 61.9,234.2 63.8,234.5 65.8,234.9 67.8,235.3 69.8,235.7 71.8,236.1 73.7,236.5 75.7,236.8 77.7,237.3 79.7,237.7 81.6,238.1 83.6,238.5 85.6,238.9 87.6,239.3 89.5,239.8 91.5,240.2 93.5,240.7 95.4,241.1 97.4,241.6 99.3,242.1 101.3,242.5 103.3,243.0 105.2,243.5 107.2,244.0 109.1,244.5 111.1,245.0 113.0,245.5 115.0,246.0 116.9,246.5 118.9,247.1 120.8,247.6 122.8,248.1 124.7,248.7 126.6,249.2 128.6,249.8 130.5,250.4 132.4,251.0 134.4,251.5 136.3,252.1 138.2,252.7 140.1,253.3 142.1,254.0 144.0,254.6 145.9,255.2 147.8,255.9 149.7,256.5 151.6,257.2 153.5,257.8 155.4,258.5 157.3,259.2 159.2,259.9 161.1,260.6 163.0,261.3 164.9,262.0 166.7,262.8 168.6,263.5 170.5,264.3 172.4,265.0 174.2,265.8 176.1,266.6 177.9,267.4 179.8,268.2 181.6,269.0 183.5,269.9 185.3,270.7 187.1,271.6 188.9,272.4 190.7,273.3 192.6,274.2 194.4,275.1 196.1,276.0 197.9,277.0 199.7,277.9 201.5,278.9 203.2,279.9 205.0,280.9 206.7,281.9 208.5,282.9 210.2,284.0 211.9,285.0 213.6,286.1 215.3,287.2 217.0,288.3 218.6,289.5 220.3,290.6 221.9,291.8 223.6,293.0 225.2,294.2 226.8,295.4 228.3,296.7 229.9,298.0 231.4,299.3 232.9,300.6 234.4,302.0 235.9,303.3 237.4,304.7 238.8,306.1 240.2,307.6 241.6,309.1 243.0,310.5 244.3,312.1 245.6,313.6 246.9,315.2 248.1,316.8 249.3,318.4 250.5,320.0 251.7,321.7 252.8,323.3 253.9,325.0 362.0,430.0 166.0,325.0 164.4,323.8 162.7,322.6 161.1,321.5 159.4,320.4 157.7,319.3 156.0,318.2 154.2,317.2 152.5,316.2 150.7,315.2 148.9,314.2 147.2,313.3 145.4,312.4 143.6,311.5 141.8,310.6 139.9,309.7 138.1,308.8 136.3,307.9 134.5,307.1 132.6,306.3 130.8,305.4 128.9,304.6 127.1,303.8 125.2,303.0 123.4,302.2 121.5,301.5 119.6,300.7 117.8,299.9 115.9,299.2 114.0,298.4 112.2,297.7 110.3,296.9 108.4,296.2 106.5,295.5 104.6,294.7 102.7,294.0 100.9,293.3 99.0,292.6 97.1,291.9 95.2,291.2 93.3,290.5 91.4,289.8 89.5,289.1 87.6,288.4 85.7,287.8 83.8,287.1 81.9,286.4 80.0,285.7 78.1,285.1 76.2,284.4 74.3,283.7 72.4,283.1 70.5,282.4 68.6,281.8 66.6,281.1 64.7,280.5 62.8,279.8 60.9,279.2 59.0,278.5 57.1,277.9 55.2,277.2 53.3,276.6 51.3,276.0 49.4,275.3 47.5,274.7 45.6,274.1 43.7,273.4 41.8,272.8 39.8,272.2 37.9,271.5 36.0,270.9" fill="#cccccc"/>
<polyline points="36.0,155.4 38.0,155.5 40.0,155.6 42.0,155.7 44.0,155.8 46.0,155.9 48.1,156.0 50.1,156.1 52.1,156.2 54.1,156.3 56.1,156.4 58.1,156.5 60.1,156.6 62.1,156.7 64.1,156.9 66.1,157.0 68.1,157.1 70.1,157.2 72.2,157.3 74.2,157.5 76.2,157.6 78.2,157.7 80.2,157.8 82.2,158.0 84.2,158.1 86.2,158.2 88.2,158.4 90.2,158.5 92.2,158.7 94.2,158.8 96.2,158.9 98.2,159.1 100.3,159.2 102.3,159.4 104.3,159.5 106.3,159.7 108.3,159.8 110.3,160.0 112.3,160.1 114.3,160.3 116.3,160.5 118.3,160.6 120.3,160.8 122.3,161.0 124.3,161.1 126.3,161.3 128.3,161.5 130.3,161.7 132.3,161.8 134.3,162.0 136.3,162.2 138.3,162.4 140.3,162.6 142.3,162.8 144.4,163.0 146.4,163.2 148.4,163.4 150.4,163.6 152.4,163.8 154.4,164.0 156.4,164.2 158.4,164.4 160.4,164.6 162.4,164.8 164.4,165.1 166.4,165.3 168.4,165.5 170.4,165.7 172.4,166.0 174.4,166.2 176.3,166.4 178.3,166.7 180.3,166.9 182.3,167.2 184.3,167.4 186.3,167.7 188.3,168.0 190.3,168.2 192.3,168.5 194.3,168.8 196.3,169.0 198.3,169.3 200.3,169.6 202.3,169.9 204.3,170.2 206.3,170.5 208.2,170.8 210.2,171.1 212.2,171.4 214.2,171.7 216.2,172.0 218.2,172.4 220.2,172.7 222.1,173.0 224.1,173.4 226.1,173.7 228.1,174.1 230.1,174.4 232.0,174.8 234.0,175.2 236.0,175.6 238.0,175.9 239.9,176.3 241.9,176.7 243.9,177.1 245.8,177.6 247.8,178.0 249.8,178.4 251.7,178.9 253.7,179.3 255.7,179.8 257.6,180.2 259.6,180.7 261.5,181.2 263.5,181.7 265.4,182.2 267.4,182.7 269.3,183.2 271.3,183.8 273.2,184.3 275.1,184.9 277.0,185.4 279.0,186.0 280.9,186.6 282.8,187.2 284.7,187.9 286.6,188.5 288.5,189.2 290.4,189.9 292.3,190.6 294.2,191.3 296.1,192.0 297.9,192.7 299.8,193.5 301.6,194.3 303.5,195.1 305.3,196.0 307.1,196.8 308.9,197.7 310.7,198.6 312.5,199.6 314.3,200.5 316.0,201.5 317.7,202.6 319.4,203.6 321.1,204.7 322.8,205.8 324.4,207.0 326.1,208.2 327.6,209.4 329.2,210.7 330.7,212.0 332.2,213.4 333.7,214.8 335.1,216.2 336.5,217.7 337.8,219.2 339.1,220.7 340.3,222.3 341.5,223.9 342.7,225.6 343.8,227.3 344.8,229.0 345.8,230.7 346.7,232.5 347.6,234.3 348.5,236.1 349.3,238.0 350.0,239.8 350.7,241.7 351.4,243.6 352.0,245.5" fill="none" stroke="#fff" stroke-width="1.2"/>
<polygon points="58.0,-20.0 60.0,-5.5 60.8,-4.9 61.5,-4.2 62.3,-3.6 63.1,-3.0 63.8,-2.3 64.6,-1.7 65.4,-1.0 66.1,-0.4 66.9,0.3 67.7,0.9 68.4,1.6 69.2,2.2 69.9,2.9 70.7,3.5 71.5,4.2 72.2,4.8 73.0,5.5 73.7,6.2 74.5,6.8 75.2,7.5 76.0,8.1 76.7,8.8 77.5,9.5 78.2,10.1 79.0,10.8 79.7,11.5 80.5,12.1 81.2,12.8 81.9,13.5 82.7,14.2 83.4,14.8 84.2,15.5 84.9,16.2 85.6,16.9 86.4,17.5 87.1,18.2 87.8,18.9 88.6,19.6 89.3,20.3 90.0,21.0 90.8,21.7 91.5,22.3 92.2,23.0 92.9,23.7 93.7,24.4 94.4,25.1 95.1,25.8 95.8,26.5 96.5,27.2 97.3,27.9 98.0,28.6 98.7,29.3 99.4,30.0 100.1,30.7 100.8,31.4 101.5,32.1 102.2,32.8 103.0,33.5 103.7,34.2 104.4,35.0 105.1,35.7 105.8,36.4 106.5,37.1 107.2,37.8 107.9,38.5 108.6,39.3 109.2,40.0 109.9,40.7 110.6,41.4 111.3,42.2 112.0,42.9 112.7,43.6 113.4,44.4 114.1,45.1 114.7,45.8 115.4,46.6 116.1,47.3 116.8,48.0 117.5,48.8 118.1,49.5 118.8,50.2 119.5,51.0 120.1,51.7 120.8,52.5 121.5,53.2 122.1,54.0 122.8,54.7 123.5,55.5 124.1,56.2 124.8,57.0 125.4,57.7 126.1,58.5 126.8,59.3 127.4,60.0 128.1,60.8 128.7,61.5 129.3,62.3 130.0,63.1 130.6,63.8 131.3,64.6 131.9,65.4 132.6,66.2 133.2,66.9 133.8,67.7 134.5,68.5 135.1,69.3 135.7,70.0 136.4,70.8 137.0,71.6 137.6,72.4 138.2,73.2 138.9,73.9 139.5,74.7 140.1,75.5 140.7,76.3 141.3,77.1 141.9,77.9 142.6,78.7 143.2,79.5 143.8,80.3 144.4,81.1 145.0,81.9 145.6,82.7 146.2,83.5 146.8,84.3 147.4,85.1 148.0,85.9 148.6,86.7 149.2,87.5 149.8,88.3 150.4,89.1 150.9,89.9 151.5,90.7 152.1,91.5 152.7,92.4 153.3,93.2 153.9,94.0 154.4,94.8 155.0,95.6 155.6,96.4 156.2,97.3 156.7,98.1 157.3,98.9 157.9,99.7 158.4,100.6 159.0,101.4 159.6,102.2 160.1,103.0 160.7,103.9 161.2,104.7 161.8,105.5 162.3,106.4 162.9,107.2 163.4,108.1 164.0,108.9 164.5,109.7 165.1,110.6 165.6,111.4 166.2,112.3 166.7,113.1 167.2,113.9 167.8,114.8 168.3,115.6 168.8,116.5 169.4,117.3 169.9,118.2 170.4,119.0 171.0,119.9 171.5,120.7 172.0,121.6 172.5,122.4 173.0,123.3 173.6,124.2 174.1,125.0 174.6,125.9 175.1,126.7 175.6,127.6 176.1,128.5 176.6,129.3 177.1,130.2 177.6,131.1 178.1,131.9 178.7,132.8 179.2,133.7 179.6,134.5 180.1,135.4 180.6,136.3 181.1,137.1 181.6,138.0 182.1,138.9 182.6,139.8 183.1,140.6 183.6,141.5 184.1,142.4 184.5,143.3 185.0,144.1 185.5,145.0 186.0,145.9 186.5,146.8 186.9,147.7 187.4,148.5 187.9,149.4 188.3,150.3 188.8,151.2 189.3,152.1 189.7,153.0 190.2,153.9 190.7,154.8 191.1,155.6 191.6,156.5 192.0,157.4 192.5,158.3 193.0,159.2 193.4,160.1 193.9,161.0 194.3,161.9 194.8,162.8 195.2,163.7 195.6,164.6 196.1,165.5 196.5,166.4 197.0,167.3 197.4,168.2 197.9,169.1 198.3,170.0 198.7,170.9 199.2,171.8 199.6,172.7 200.0,173.6 200.4,174.5 200.9,175.4 201.3,176.3 201.7,177.2 202.2,178.1 202.6,179.0 203.0,179.9 203.4,180.8 203.8,180.9 201.4,180.5 199.0,180.1 196.6,179.8 194.2,179.4 191.8,179.0 189.4,178.7 187.0,178.3 184.6,177.9 182.2,177.6 179.8,177.3 177.4,176.9 175.0,176.6 172.6,176.3 170.2,176.0 167.8,175.7 165.4,175.4 163.0,175.1 160.6,174.8 158.2,174.5 155.8,174.2 153.4,173.9 151.0,173.7 148.6,173.4 146.2,173.1 145.7,173.0 145.2,172.2 144.7,171.3 144.1,170.5 143.5,169.7 142.9,168.8 142.3,168.0 141.7,167.2 141.1,166.4 140.5,165.6 139.9,164.8 139.3,164.0 138.7,163.2 138.1,162.4 137.5,161.7 136.8,160.9 136.2,160.1 135.6,159.3 135.0,158.5 134.3,157.7 133.7,156.9 133.1,156.2 132.4,155.4 131.8,154.6 131.2,153.8 130.5,153.1 129.9,152.3 129.2,151.5 128.6,150.7 128.0,150.0 127.3,149.2 126.7,148.4 126.0,147.7 125.4,146.9 124.7,146.1 124.1,145.4 123.4,144.6 122.8,143.8 122.1,143.1 121.4,142.3 120.8,141.6 120.1,140.8 119.5,140.0 118.8,139.3 118.1,138.5 117.5,137.8 116.8,137.0 116.1,136.3 115.5,135.5 114.8,134.8 114.1,134.0 113.5,133.3 112.8,132.6 112.1,131.8 111.4,131.1 110.7,130.3 110.1,129.6 109.4,128.8 108.7,128.1 108.0,127.4 107.3,126.6 106.6,125.9 106.0,125.2 105.3,124.4 104.6,123.7 103.9,123.0 103.2,122.3 102.5,121.5 101.8,120.8 101.1,120.1 100.4,119.4 99.7,118.7 99.0,117.9 98.3,117.2 97.6,116.5 96.9,115.8 96.2,115.1 95.5,114.4 94.8,113.7 94.0,112.9 93.3,112.2 92.6,111.5 91.9,110.8 91.2,110.1 90.5,109.4 89.7,108.7 89.0,108.0 88.3,107.3 87.6,106.6 86.8,105.9 86.1,105.3 85.4,104.6 84.7,103.9 83.9,103.2 83.2,102.5 82.5,101.8 81.7,101.1 81.0,100.5 80.2,99.8 79.5,99.1 78.8,98.4 78.0,97.8 77.3,97.1 76.5,96.4 75.8,95.7 75.0,95.1 74.3,94.4 73.5,93.7 72.8,93.1 72.0,92.4 71.2,91.8 70.5,91.1 69.7,90.5 69.0,89.8 68.2,89.2 67.4,88.5 66.6,87.9 65.9,87.2 65.1,86.6 64.3,85.9 63.6,85.3 62.8,84.7 62.0,84.0 61.2,83.4 60.4,82.8 59.7,82.1 58.9,81.5 58.1,80.9 57.3,80.3 56.5,79.6 55.7,79.0 54.9,78.4 54.1,77.8 53.3,77.2 52.5,76.6 51.7,76.0 50.9,75.4 50.1,74.8 49.3,74.2 48.5,73.6 47.7,73.0 46.9,72.4 46.1,71.8 45.3,71.2 44.4,70.6 43.6,70.0 42.8,69.5 42.0,68.9 41.2,68.3 40.3,67.7 39.5,67.2 38.7,66.6 37.9,66.0 37.0,65.5 36.2,64.9 35.4,64.3 34.5,63.8 33.7,63.2 32.8,62.7 32.0,62.1 31.1,61.6 30.3,61.1 29.5,60.5 28.6,60.0 27.7,59.5 26.9,58.9 26.0,58.4 25.2,57.9 24.3,57.4 23.5,56.8 22.6,56.3 21.7,55.8 20.9,55.3 20.0,54.8 20.0,54.8 20.0,-20.0" fill="rgba(205,20,25,0.30)"/>
<g clip-path="url(#redclip)"><polygon points="100.0,150.7 102.0,150.9 104.0,151.0 106.0,151.2 108.0,151.3 110.0,151.5 112.0,151.6 114.1,151.8 116.1,151.9 118.1,152.1 120.1,152.2 122.1,152.4 124.1,152.6 126.1,152.7 128.1,152.9 130.1,153.0 132.1,153.2 134.1,153.4 136.1,153.5 138.1,153.7 140.2,153.9 142.2,154.1 144.2,154.2 146.2,154.4 148.2,154.6 150.2,154.8 152.2,154.9 154.2,155.1 156.2,155.3 158.2,155.5 160.2,155.7 162.2,155.9 164.2,156.1 166.2,156.3 168.2,156.4 170.2,156.6 172.2,156.8 174.2,157.0 176.2,157.2 178.2,157.5 180.3,157.7 182.3,157.9 184.3,158.1 186.3,158.3 188.3,158.5 190.3,158.7 192.3,159.0 194.3,159.2 196.3,159.4 198.3,159.6 200.3,159.9 202.3,160.1 204.3,160.4 206.3,160.6 208.3,160.8 210.3,161.1 212.3,161.3 214.3,161.6 216.3,161.9 218.3,162.1 220.2,162.4 222.2,162.7 224.2,163.0 226.2,163.2 228.2,163.5 230.2,163.8 232.2,164.1 234.2,164.4 236.2,164.7 238.2,165.0 240.2,165.3 242.2,165.7 244.1,166.0 246.1,166.3 248.1,166.7 250.1,167.0 252.1,167.4 254.1,167.7 256.0,168.1 258.0,168.5 260.0,168.8 262.0,300.0 260.0,180.8 258.0,180.3 256.1,179.9 254.1,179.4 252.1,178.9 250.2,178.5 248.2,178.1 246.2,177.6 244.2,177.2 242.3,176.8 240.3,176.4 238.3,176.0 236.3,175.6 234.3,175.2 232.3,174.9 230.4,174.5 228.4,174.1 226.4,173.8 224.4,173.4 222.4,173.1 220.4,172.7 218.4,172.4 216.4,172.1 214.4,171.8 212.4,171.4 210.4,171.1 208.4,170.8 206.5,170.5 204.5,170.2 202.5,169.9 200.5,169.6 198.5,169.3 196.5,169.1 194.5,168.8 192.5,168.5 190.5,168.2 188.4,168.0 186.4,167.7 184.4,167.4 182.4,167.2 180.4,166.9 178.4,166.7 176.4,166.4 174.4,166.2 172.4,166.0 170.4,165.7 168.4,165.5 166.4,165.3 164.4,165.1 162.4,164.8 160.4,164.6 158.4,164.4 156.3,164.2 154.3,164.0 152.3,163.8 150.3,163.6 148.3,163.4 146.3,163.2 144.3,163.0 142.3,162.8 140.3,162.6 138.3,162.4 136.2,162.2 134.2,162.0 132.2,161.8 130.2,161.7 128.2,161.5 126.2,161.3 124.2,161.1 122.2,161.0 120.1,160.8 118.1,160.6 116.1,160.5 114.1,160.3 112.1,160.1 110.1,160.0 108.1,159.8 106.0,159.7 104.0,159.5 102.0,159.4 100.0,159.2" fill="#cd5050"/><polygon points="100.0,159.2 102.0,159.4 104.0,159.5 106.0,159.7 108.1,159.8 110.1,160.0 112.1,160.1 114.1,160.3 116.1,160.5 118.1,160.6 120.1,160.8 122.2,161.0 124.2,161.1 126.2,161.3 128.2,161.5 130.2,161.7 132.2,161.8 134.2,162.0 136.2,162.2 138.3,162.4 140.3,162.6 142.3,162.8 144.3,163.0 146.3,163.2 148.3,163.4 150.3,163.6 152.3,163.8 154.3,164.0 156.3,164.2 158.4,164.4 160.4,164.6 162.4,164.8 164.4,165.1 166.4,165.3 168.4,165.5 170.4,165.7 172.4,166.0 174.4,166.2 176.4,166.4 178.4,166.7 180.4,166.9 182.4,167.2 184.4,167.4 186.4,167.7 188.4,168.0 190.5,168.2 192.5,168.5 194.5,168.8 196.5,169.1 198.5,169.3 200.5,169.6 202.5,169.9 204.5,170.2 206.5,170.5 208.4,170.8 210.4,171.1 212.4,171.4 214.4,171.8 216.4,172.1 218.4,172.4 220.4,172.7 222.4,173.1 224.4,173.4 226.4,173.8 228.4,174.1 230.4,174.5 232.3,174.9 234.3,175.2 236.3,175.6 238.3,176.0 240.3,176.4 242.3,176.8 244.2,177.2 246.2,177.6 248.2,178.1 250.2,178.5 252.1,178.9 254.1,179.4 256.1,179.9 258.0,180.3 260.0,180.8 262.0,300.0 260.0,193.4 258.1,192.9 256.2,192.3 254.2,191.8 252.3,191.3 250.4,190.7 248.4,190.2 246.5,189.7 244.5,189.2 242.6,188.8 240.7,188.3 238.7,187.8 236.8,187.4 234.8,186.9 232.8,186.5 230.9,186.1 228.9,185.7 227.0,185.3 225.0,184.9 223.1,184.5 221.1,184.1 219.1,183.7 217.2,183.3 215.2,182.9 213.2,182.6 211.3,182.2 209.3,181.9 207.3,181.5 205.3,181.2 203.4,180.9 201.4,180.5 199.4,180.2 197.4,179.9 195.5,179.6 193.5,179.3 191.5,179.0 189.5,178.7 187.5,178.4 185.6,178.1 183.6,177.8 181.6,177.5 179.6,177.2 177.6,177.0 175.6,176.7 173.7,176.4 171.7,176.2 169.7,175.9 167.7,175.7 165.7,175.4 163.7,175.2 161.7,174.9 159.8,174.7 157.8,174.5 155.8,174.2 153.8,174.0 151.8,173.8 149.8,173.5 147.8,173.3 145.8,173.1 143.8,172.9 141.9,172.7 139.9,172.5 137.9,172.3 135.9,172.1 133.9,171.9 131.9,171.7 129.9,171.5 127.9,171.3 125.9,171.1 123.9,170.9 121.9,170.7 119.9,170.5 118.0,170.3 116.0,170.2 114.0,170.0 112.0,169.8 110.0,169.6 108.0,169.5 106.0,169.3 104.0,169.1 102.0,169.0 100.0,168.8" fill="#963c70"/>
<polyline points="100.0,159.2 102.0,159.4 104.0,159.5 106.0,159.7 108.1,159.8 110.1,160.0 112.1,160.1 114.1,160.3 116.1,160.5 118.1,160.6 120.1,160.8 122.2,161.0 124.2,161.1 126.2,161.3 128.2,161.5 130.2,161.7 132.2,161.8 134.2,162.0 136.2,162.2 138.3,162.4 140.3,162.6 142.3,162.8 144.3,163.0 146.3,163.2 148.3,163.4 150.3,163.6 152.3,163.8 154.3,164.0 156.3,164.2 158.4,164.4 160.4,164.6 162.4,164.8 164.4,165.1 166.4,165.3 168.4,165.5 170.4,165.7 172.4,166.0 174.4,166.2 176.4,166.4 178.4,166.7 180.4,166.9 182.4,167.2 184.4,167.4 186.4,167.7 188.4,168.0 190.5,168.2 192.5,168.5 194.5,168.8 196.5,169.1 198.5,169.3 200.5,169.6 202.5,169.9 204.5,170.2 206.5,170.5 208.4,170.8 210.4,171.1 212.4,171.4 214.4,171.8 216.4,172.1 218.4,172.4 220.4,172.7 222.4,173.1 224.4,173.4 226.4,173.8 228.4,174.1 230.4,174.5 232.3,174.9 234.3,175.2 236.3,175.6 238.3,176.0 240.3,176.4 242.3,176.8 244.2,177.2 246.2,177.6 248.2,178.1 250.2,178.5 252.1,178.9 254.1,179.4 256.1,179.9 258.0,180.3 260.0,180.8" fill="none" stroke="#f08080" stroke-width="1" opacity="0.6"/></g>
<polyline points="58.0,-20.0 60.0,-5.5 60.8,-4.9 61.5,-4.2 62.3,-3.6 63.1,-3.0 63.8,-2.3 64.6,-1.7 65.4,-1.0 66.1,-0.4 66.9,0.3 67.7,0.9 68.4,1.6 69.2,2.2 69.9,2.9 70.7,3.5 71.5,4.2 72.2,4.8 73.0,5.5 73.7,6.2 74.5,6.8 75.2,7.5 76.0,8.1 76.7,8.8 77.5,9.5 78.2,10.1 79.0,10.8 79.7,11.5 80.5,12.1 81.2,12.8 81.9,13.5 82.7,14.2 83.4,14.8 84.2,15.5 84.9,16.2 85.6,16.9 86.4,17.5 87.1,18.2 87.8,18.9 88.6,19.6 89.3,20.3 90.0,21.0 90.8,21.7 91.5,22.3 92.2,23.0 92.9,23.7 93.7,24.4 94.4,25.1 95.1,25.8 95.8,26.5 96.5,27.2 97.3,27.9 98.0,28.6 98.7,29.3 99.4,30.0 100.1,30.7 100.8,31.4 101.5,32.1 102.2,32.8 103.0,33.5 103.7,34.2 104.4,35.0 105.1,35.7 105.8,36.4 106.5,37.1 107.2,37.8 107.9,38.5 108.6,39.3 109.2,40.0 109.9,40.7 110.6,41.4 111.3,42.2 112.0,42.9 112.7,43.6 113.4,44.4 114.1,45.1 114.7,45.8 115.4,46.6 116.1,47.3 116.8,48.0 117.5,48.8 118.1,49.5 118.8,50.2 119.5,51.0 120.1,51.7 120.8,52.5 121.5,53.2 122.1,54.0 122.8,54.7 123.5,55.5 124.1,56.2 124.8,57.0 125.4,57.7 126.1,58.5 126.8,59.3 127.4,60.0 128.1,60.8 128.7,61.5 129.3,62.3 130.0,63.1 130.6,63.8 131.3,64.6 131.9,65.4 132.6,66.2 133.2,66.9 133.8,67.7 134.5,68.5 135.1,69.3 135.7,70.0 136.4,70.8 137.0,71.6 137.6,72.4 138.2,73.2 138.9,73.9 139.5,74.7 140.1,75.5 140.7,76.3 141.3,77.1 141.9,77.9 142.6,78.7 143.2,79.5 143.8,80.3 144.4,81.1 145.0,81.9 145.6,82.7 146.2,83.5 146.8,84.3 147.4,85.1 148.0,85.9 148.6,86.7 149.2,87.5 149.8,88.3 150.4,89.1 150.9,89.9 151.5,90.7 152.1,91.5 152.7,92.4 153.3,93.2 153.9,94.0 154.4,94.8 155.0,95.6 155.6,96.4 156.2,97.3 156.7,98.1 157.3,98.9 157.9,99.7 158.4,100.6 159.0,101.4 159.6,102.2 160.1,103.0 160.7,103.9 161.2,104.7 161.8,105.5 162.3,106.4 162.9,107.2 163.4,108.1 164.0,108.9 164.5,109.7 165.1,110.6 165.6,111.4 166.2,112.3 166.7,113.1 167.2,113.9 167.8,114.8 168.3,115.6 168.8,116.5 169.4,117.3 169.9,118.2 170.4,119.0 171.0,119.9 171.5,120.7 172.0,121.6 172.5,122.4 173.0,123.3 173.6,124.2 174.1,125.0 174.6,125.9 175.1,126.7 175.6,127.6 176.1,128.5 176.6,129.3 177.1,130.2 177.6,131.1 178.1,131.9 178.7,132.8 179.2,133.7 179.6,134.5 180.1,135.4 180.6,136.3 181.1,137.1 181.6,138.0 182.1,138.9 182.6,139.8 183.1,140.6 183.6,141.5 184.1,142.4 184.5,143.3 185.0,144.1 185.5,145.0 186.0,145.9 186.5,146.8 186.9,147.7 187.4,148.5 187.9,149.4 188.3,150.3 188.8,151.2 189.3,152.1 189.7,153.0 190.2,153.9 190.7,154.8 191.1,155.6 191.6,156.5 192.0,157.4 192.5,158.3 193.0,159.2 193.4,160.1 193.9,161.0 194.3,161.9 194.8,162.8 195.2,163.7 195.6,164.6 196.1,165.5 196.5,166.4 197.0,167.3 197.4,168.2 197.9,169.1 198.3,170.0 198.7,170.9 199.2,171.8 199.6,172.7 200.0,173.6 200.4,174.5 200.9,175.4 201.3,176.3 201.7,177.2 202.2,178.1 202.6,179.0 203.0,179.9 203.4,180.8" fill="none" stroke="#df6f6f" stroke-width="0.9"/>
<polyline points="20.0,54.8 20.9,55.3 21.7,55.8 22.6,56.3 23.5,56.8 24.3,57.4 25.2,57.9 26.0,58.4 26.9,58.9 27.7,59.5 28.6,60.0 29.5,60.5 30.3,61.1 31.1,61.6 32.0,62.1 32.8,62.7 33.7,63.2 34.5,63.8 35.4,64.3 36.2,64.9 37.0,65.5 37.9,66.0 38.7,66.6 39.5,67.2 40.3,67.7 41.2,68.3 42.0,68.9 42.8,69.5 43.6,70.0 44.4,70.6 45.3,71.2 46.1,71.8 46.9,72.4 47.7,73.0 48.5,73.6 49.3,74.2 50.1,74.8 50.9,75.4 51.7,76.0 52.5,76.6 53.3,77.2 54.1,77.8 54.9,78.4 55.7,79.0 56.5,79.6 57.3,80.3 58.1,80.9 58.9,81.5 59.7,82.1 60.4,82.8 61.2,83.4 62.0,84.0 62.8,84.7 63.6,85.3 64.3,85.9 65.1,86.6 65.9,87.2 66.6,87.9 67.4,88.5 68.2,89.2 69.0,89.8 69.7,90.5 70.5,91.1 71.2,91.8 72.0,92.4 72.8,93.1 73.5,93.7 74.3,94.4 75.0,95.1 75.8,95.7 76.5,96.4 77.3,97.1 78.0,97.8 78.8,98.4 79.5,99.1 80.2,99.8 81.0,100.5 81.7,101.1 82.5,101.8 83.2,102.5 83.9,103.2 84.7,103.9 85.4,104.6 86.1,105.3 86.8,105.9 87.6,106.6 88.3,107.3 89.0,108.0 89.7,108.7 90.5,109.4 91.2,110.1 91.9,110.8 92.6,111.5 93.3,112.2 94.0,112.9 94.8,113.7 95.5,114.4 96.2,115.1 96.9,115.8 97.6,116.5 98.3,117.2 99.0,117.9 99.7,118.7 100.4,119.4 101.1,120.1 101.8,120.8 102.5,121.5 103.2,122.3 103.9,123.0 104.6,123.7 105.3,124.4 106.0,125.2 106.6,125.9 107.3,126.6 108.0,127.4 108.7,128.1 109.4,128.8 110.1,129.6 110.7,130.3 111.4,131.1 112.1,131.8 112.8,132.6 113.5,133.3 114.1,134.0 114.8,134.8 115.5,135.5 116.1,136.3 116.8,137.0 117.5,137.8 118.1,138.5 118.8,139.3 119.5,140.0 120.1,140.8 120.8,141.6 121.4,142.3 122.1,143.1 122.8,143.8 123.4,144.6 124.1,145.4 124.7,146.1 125.4,146.9 126.0,147.7 126.7,148.4 127.3,149.2 128.0,150.0 128.6,150.7 129.2,151.5 129.9,152.3 130.5,153.1 131.2,153.8 131.8,154.6 132.4,155.4 133.1,156.2 133.7,156.9 134.3,157.7 135.0,158.5 135.6,159.3 136.2,160.1 136.8,160.9 137.5,161.7 138.1,162.4 138.7,163.2 139.3,164.0 139.9,164.8 140.5,165.6 141.1,166.4 141.7,167.2 142.3,168.0 142.9,168.8 143.5,169.7 144.1,170.5 144.7,171.3 145.2,172.2 145.7,173.0" fill="none" stroke="#df6f6f" stroke-width="0.9"/>
<polyline points="36.0,143.9 37.5,144.0 39.0,144.1 40.5,144.2 42.0,144.3 43.5,144.4 45.0,144.5 46.5,144.6 48.0,144.7 49.5,144.8 51.0,144.9 52.5,145.0 54.0,145.1 55.5,145.2 57.0,145.3 58.5,145.4 60.0,145.5 61.5,145.6 63.0,145.7 64.5,145.8 66.0,145.9 67.5,146.0 69.0,146.1 70.5,146.2 72.0,146.3 73.5,146.4 75.0,146.5 76.5,146.6 78.0,146.7 79.5,146.8 81.0,146.9 82.5,147.0 84.0,147.1 85.5,147.3 87.0,147.4 88.5,147.5 90.0,147.6 91.5,147.7 93.0,147.8 94.5,147.9 96.0,148.0 97.5,148.1 99.0,148.2 100.5,148.3 102.0,148.5 103.5,148.6 105.0,148.7 106.5,148.8 108.0,148.9 109.5,149.0 111.0,149.1 112.5,149.2 114.0,149.4 115.5,149.5 117.0,149.6 118.5,149.7 120.0,149.8 121.5,150.0 123.0,150.1 124.5,150.2 126.0,150.3 127.5,150.4 129.0,150.6 130.5,150.7 132.0,150.8 133.5,150.9 135.0,151.1 136.5,151.2 138.0,151.3 139.5,151.4 141.0,151.6 142.5,151.7 144.0,151.8 145.5,152.0 147.0,152.1 148.5,152.2 150.0,152.3 151.5,152.5 153.0,152.6 154.5,152.8 156.0,152.9 157.5,153.0 159.0,153.2 160.5,153.3 162.0,153.4 163.5,153.6 165.0,153.7 166.5,153.9 168.0,154.0 169.5,154.2 171.0,154.3 172.5,154.5 174.0,154.6 175.5,154.8 177.0,154.9 178.5,155.1 180.0,155.2 181.5,155.4 182.9,155.5 184.4,155.7 185.9,155.9 187.4,156.0 188.9,156.2 190.4,156.4 191.9,156.5 193.4,156.7 194.9,156.9 196.4,157.0 197.9,157.2 199.4,157.4 200.9,157.5 202.4,157.7 203.9,157.9 205.4,158.1 206.9,158.3 208.4,158.5 209.8,158.6 211.3,158.8 212.8,159.0 214.3,159.2 215.8,159.4 217.3,159.6 218.8,159.8 220.3,160.0 221.8,160.2 223.3,160.4 224.8,160.6 226.2,160.8 227.7,161.1 229.2,161.3 230.7,161.5 232.2,161.7 233.7,161.9 235.2,162.2 236.7,162.4 238.1,162.6 239.6,162.9 241.1,163.1 242.6,163.3 244.1,163.6 245.6,163.8 247.1,164.1 248.5,164.3 250.0,164.6 251.5,164.9 253.0,165.1 254.5,165.4 255.9,165.7 257.4,165.9 258.9,166.2 260.4,166.5 261.8,166.8 263.3,167.1 264.8,167.4 266.3,167.7 267.7,168.0 269.2,168.3 270.7,168.6 272.2,169.0 273.6,169.3 275.1,169.6 276.6,170.0 278.0,170.3 279.5,170.7 280.9,171.0 282.4,171.4 283.9,171.8 285.3,172.2 286.8,172.5 288.2,172.9 289.7,173.3 291.1,173.7 292.6,174.2 294.0,174.6" fill="none" stroke="#6c6c6c" stroke-width="1"/>
<polyline points="340.7,197.5 341.9,198.5 343.0,199.5 344.1,200.6 345.2,201.7 346.2,202.8 347.3,203.9 348.3,205.1 349.3,206.3 350.2,207.5 351.1,208.7 352.0,210.0" fill="none" stroke="#6c6c6c" stroke-width="1"/>
<polyline points="36.0,246.2 37.5,246.5 39.0,246.8 40.5,247.1 42.0,247.5 43.5,247.8 45.0,248.1 46.4,248.4 47.9,248.7 49.4,249.1 50.9,249.4 52.4,249.7 53.9,250.0 55.4,250.4 56.9,250.7 58.4,251.0 59.9,251.4 61.3,251.7 62.8,252.0 64.3,252.4 65.8,252.7 67.3,253.1 68.8,253.4 70.3,253.8 71.7,254.1 73.2,254.5 74.7,254.8" fill="none" stroke="#6c6c6c" stroke-width="1"/>
<polyline points="122.3,268.6 123.7,269.1 125.1,269.6 126.6,270.1 128.0,270.6 129.4,271.2 130.8,271.7 132.2,272.2 133.6,272.7 135.0,273.3 136.4,273.8 137.8,274.4 139.2,274.9 140.6,275.5 142.0,276.1 143.4,276.7 144.8,277.2 146.2,277.8 147.6,278.4 149.0,279.0 150.3,279.7 151.7,280.3 153.1,280.9 154.4,281.5 155.8,282.2 157.2,282.8 158.5,283.5 159.9,284.1 161.2,284.8 162.6,285.4 163.9,286.1 165.3,286.8 166.6,287.5 167.9,288.2 169.3,288.9 170.6,289.6 171.9,290.3 173.2,291.1 174.6,291.8 175.9,292.5 177.2,293.3 178.5,294.1 179.8,294.8 181.1,295.6 182.4,296.4 183.6,297.2 184.9,297.9 186.2,298.7 187.5,299.6 188.7,300.4 190.0,301.2 191.3,302.0 192.5,302.9 193.8,303.7 195.0,304.5 196.2,305.4 197.5,306.3 198.7,307.1 199.9,308.0 201.2,308.9 202.4,309.8 203.6,310.7 204.8,311.6 206.0,312.5 207.2,313.4 208.3,314.4 209.5,315.3 210.7,316.3 211.9,317.2 213.0,318.2 214.2,319.1 215.4,320.1 216.5,321.1 217.6,322.0 218.8,323.0 219.9,324.0 221.0,325.0" fill="none" stroke="#6c6c6c" stroke-width="1"/>
<polyline points="36.0,164.4 37.5,164.5 39.0,164.6 40.5,164.7 42.0,164.8 43.5,164.9 45.0,165.0 46.5,165.0 48.0,165.1 49.5,165.2 51.0,165.3 52.5,165.4 54.0,165.5 55.6,165.6 57.1,165.7 58.6,165.8 60.1,165.9 61.6,166.0 63.1,166.1 64.6,166.2 66.1,166.3 67.6,166.4 69.1,166.5 70.6,166.6 72.1,166.7 73.6,166.8 75.1,166.9 76.6,167.0 78.1,167.1 79.6,167.2 81.1,167.3 82.6,167.5 84.1,167.6 85.6,167.7 87.1,167.8 88.6,167.9 90.1,168.0 91.6,168.1 93.1,168.3 94.6,168.4 96.1,168.5 97.6,168.6 99.1,168.7 100.6,168.9 102.1,169.0 103.6,169.1 105.1,169.2 106.6,169.4 108.1,169.5 109.6,169.6 111.1,169.7 112.6,169.9 114.1,170.0 115.6,170.1 117.1,170.3 118.6,170.4 120.1,170.5 121.6,170.7 123.1,170.8 124.6,171.0 126.1,171.1 127.6,171.2 129.1,171.4 130.6,171.5 132.1,171.7 133.6,171.8 135.1,172.0 136.6,172.1 138.1,172.3 139.6,172.4 141.1,172.6 142.6,172.8 144.1,172.9 145.6,173.1 147.1,173.2 148.6,173.4 150.1,173.6 151.6,173.7 153.1,173.9 154.6,174.1 156.1,174.3 157.6,174.4 159.1,174.6 160.6,174.8 162.1,175.0 163.6,175.2 165.1,175.3 166.6,175.5 168.1,175.7 169.6,175.9 171.1,176.1 172.6,176.3 174.1,176.5 175.5,176.7 177.0,176.9 178.5,177.1 180.0,177.3 181.5,177.5 183.0,177.7 184.5,177.9 186.0,178.1 187.5,178.4 189.0,178.6 190.5,178.8 192.0,179.0 193.4,179.3 194.9,179.5 196.4,179.7 197.9,180.0 199.4,180.2 200.9,180.4 202.4,180.7 203.9,180.9 205.3,181.2 206.8,181.4 208.3,181.7 209.8,182.0 211.3,182.2 212.8,182.5 214.2,182.8 215.7,183.0 217.2,183.3 218.7,183.6 220.2,183.9 221.6,184.2 223.1,184.5 224.6,184.8 226.1,185.1 227.5,185.4 229.0,185.7 230.5,186.0 232.0,186.3 233.4,186.6 234.9,187.0 236.4,187.3 237.8,187.6 239.3,188.0 240.8,188.3 242.2,188.7 243.7,189.0 245.2,189.4 246.6,189.8 248.1,190.1 249.5,190.5 251.0,190.9 252.5,191.3 253.9,191.7 255.4,192.1 256.8,192.5 258.3,192.9 259.7,193.3 261.2,193.8 262.6,194.2 264.0,194.7 265.5,195.1 266.9,195.6 268.3,196.0 269.8,196.5 271.2,197.0 272.6,197.5 274.0,198.0 275.5,198.5 276.9,199.0 278.3,199.5 279.7,200.1 281.1,200.6 282.5,201.2 283.9,201.8 285.3,202.3 286.7,202.9 288.0,203.5 289.4,204.1 290.8,204.8 292.2,205.4 293.5,206.0 294.9,206.7 296.2,207.4 297.6,208.0 298.9,208.7 300.2,209.5 301.6,210.2 302.9,210.9 304.2,211.7 305.5,212.4 306.8,213.2 308.0,214.0 309.3,214.8 310.6,215.7 311.8,216.5" fill="none" stroke="#1a1aff" stroke-width="0.9"/>
<polyline points="336.8,241.7 337.6,243.0 338.4,244.3 339.2,245.6 339.9,246.9 340.7,248.2 341.4,249.6 342.0,250.9 342.7,252.3 343.4,253.7 344.0,255.0 344.6,256.4 345.1,257.8 345.7,259.2 346.2,260.7 346.8,262.1 347.3,263.5 347.8,264.9 348.2,266.4 348.7,267.8 349.1,269.3 349.5,270.7 349.9,272.2 350.3,273.7 350.7,275.1 351.0,276.6 351.4,278.1 351.7,279.6 352.0,281.0" fill="none" stroke="#1a1aff" stroke-width="0.9"/>
<polyline points="36.0,179.4 37.5,179.5 39.0,179.7 40.5,179.8 42.0,180.0 43.5,180.1 45.0,180.2 46.5,180.4 48.0,180.5 49.4,180.7 50.9,180.8 52.4,181.0 53.9,181.1 55.4,181.3 56.9,181.4 58.4,181.6 59.9,181.7 61.4,181.8 62.9,182.0 64.4,182.1 65.9,182.3 67.4,182.4 68.9,182.6 70.4,182.7 71.9,182.9 73.3,183.0 74.8,183.2 76.3,183.3 77.8,183.5 79.3,183.6 80.8,183.8 82.3,183.9 83.8,184.1 85.3,184.2 86.8,184.4 88.3,184.6 89.8,184.7 91.3,184.9 92.8,185.0 94.2,185.2 95.7,185.3 97.2,185.5 98.7,185.7 100.2,185.8 101.7,186.0 103.2,186.1 104.7,186.3 106.2,186.5 107.7,186.6 109.2,186.8 110.7,187.0 112.2,187.1 113.6,187.3 115.1,187.5 116.6,187.6 118.1,187.8 119.6,188.0 121.1,188.2 122.6,188.3 124.1,188.5 125.6,188.7 127.1,188.9 128.6,189.1 130.0,189.2 131.5,189.4 133.0,189.6 134.5,189.8 136.0,190.0 137.5,190.2 139.0,190.4 140.5,190.6 142.0,190.8 143.4,190.9 144.9,191.1 146.4,191.3 147.9,191.6 149.4,191.8 150.9,192.0 152.4,192.2 153.8,192.4 155.3,192.6 156.8,192.8 158.3,193.0 159.8,193.2 161.3,193.5 162.8,193.7 164.2,193.9 165.7,194.1 167.2,194.4 168.7,194.6 170.2,194.8 171.7,195.1 173.1,195.3 174.6,195.6 176.1,195.8 177.6,196.1 179.1,196.3 180.5,196.6 182.0,196.8 183.5,197.1 185.0,197.4 186.4,197.7 187.9,197.9 189.4,198.2 190.9,198.5 192.3,198.8 193.8,199.1 195.3,199.3 196.8,199.6 198.2,199.9 199.7,200.3 201.2,200.6 202.6,200.9 204.1,201.2 205.6,201.5 207.0,201.8 208.5,202.2 210.0,202.5 211.4,202.8 212.9,203.2 214.3,203.5 215.8,203.9 217.3,204.3 218.7,204.6 220.2,205.0 221.6,205.4 223.1,205.8 224.5,206.2 226.0,206.6 227.4,207.0 228.9,207.4 230.3,207.8 231.7,208.2 233.2,208.6 234.6,209.1 236.0,209.5 237.5,210.0 238.9,210.4 240.3,210.9 241.8,211.4 243.2,211.8 244.6,212.3 246.0,212.8 247.4,213.3 248.8,213.9 250.2,214.4 251.7,214.9 253.1,215.4 254.4,216.0 255.8,216.6 257.2,217.1 258.6,217.7 260.0,218.3 261.4,218.9 262.7,219.5 264.1,220.1 265.5,220.7 266.8,221.4 268.2,222.0 269.5,222.7 270.9,223.4 272.2,224.1 273.5,224.7 274.9,225.5 276.2,226.2 277.5,226.9 278.8,227.7 280.1,228.4 281.4,229.2 282.7,230.0 283.9,230.8 285.2,231.6" fill="none" stroke="#1a1aff" stroke-width="0.9"/>
<polyline points="310.6,252.9 311.6,254.1 312.6,255.2 313.6,256.4 314.6,257.6 315.5,258.7 316.5,259.9 317.4,261.1 318.3,262.4 319.2,263.6 320.1,264.8 321.0,266.1 321.8,267.4 322.7,268.6 323.5,269.9 324.3,271.2 325.1,272.5 325.9,273.8 326.6,275.1 327.4,276.5 328.1,277.8 328.8,279.2 329.5,280.5 330.2,281.9 330.9,283.2 331.6,284.6 332.2,286.0 332.9,287.4 333.5,288.8 334.1,290.2 334.7,291.6 335.3,293.0 335.8,294.4 336.4,295.8 336.9,297.3 337.5,298.7 338.0,300.1 338.5,301.6 339.0,303.0 339.5,304.4 340.0,305.9 340.4,307.3 340.9,308.8 341.3,310.3 341.8,311.7 342.2,313.2 342.6,314.7 343.0,316.1 343.4,317.6 343.8,319.1 344.2,320.6 344.5,322.0 344.9,323.5 345.2,325.0" fill="none" stroke="#1a1aff" stroke-width="0.9"/>
<polyline points="36.0,194.8 37.5,194.9 39.0,195.1 40.5,195.3 42.0,195.4 43.5,195.6 45.0,195.8 46.5,195.9 48.0,196.1 49.5,196.3 51.0,196.4 52.5,196.6 54.0,196.8 55.5,196.9 57.0,197.1 58.5,197.3 60.0,197.5 61.5,197.6 63.0,197.8 64.5,198.0 66.0,198.2 67.5,198.3 69.0,198.5 70.5,198.7 72.0,198.9 73.5,199.1 75.0,199.2 76.5,199.4 78.0,199.6 79.5,199.8 81.0,200.0 82.5,200.2 84.0,200.4 85.5,200.6 87.0,200.8 88.5,201.0 90.0,201.2 91.5,201.4 93.0,201.6 94.5,201.8 95.9,202.0 97.4,202.2 98.9,202.4 100.4,202.6 101.9,202.8 103.4,203.0 104.9,203.2 106.4,203.4 107.9,203.6 109.4,203.9 110.9,204.1 112.4,204.3 113.9,204.5 115.4,204.8 116.9,205.0 118.4,205.2 119.8,205.4 121.3,205.7 122.8,205.9 124.3,206.2 125.8,206.4 127.3,206.6 128.8,206.9 130.3,207.1 131.8,207.4 133.3,207.6 134.7,207.9 136.2,208.1 137.7,208.4 139.2,208.7 140.7,208.9 142.2,209.2 143.7,209.5 145.1,209.7 146.6,210.0 148.1,210.3 149.6,210.6 151.1,210.9 152.6,211.2 154.0,211.4 155.5,211.7 157.0,212.0 158.5,212.3 160.0,212.6 161.4,213.0 162.9,213.3 164.4,213.6 165.9,213.9 167.3,214.2 168.8,214.6 170.3,214.9 171.8,215.2 173.2,215.6 174.7,215.9 176.2,216.3 177.6,216.6 179.1,217.0 180.6,217.3 182.0,217.7 183.5,218.1 185.0,218.4 186.4,218.8 187.9,219.2 189.3,219.6 190.8,220.0 192.3,220.4 193.7,220.8 195.2,221.2 196.6,221.6 198.1,222.0 199.5,222.4 201.0,222.9 202.4,223.3" fill="none" stroke="#1a1aff" stroke-width="0.9"/>
<polyline points="228.1,232.3 229.5,232.9 230.9,233.4 232.3,234.0 233.7,234.6 235.0,235.2 236.4,235.8 237.8,236.4 239.2,237.1 240.5,237.7 241.9,238.4 243.2,239.0 244.6,239.7 245.9,240.3 247.3,241.0 248.6,241.7 249.9,242.4 251.3,243.1 252.6,243.9 253.9,244.6 255.2,245.3 256.5,246.1 257.8,246.8 259.1,247.6 260.4,248.4 261.7,249.2 262.9,250.0 264.2,250.8 265.5,251.7 266.7,252.5 267.9,253.4 269.2,254.2 270.4,255.1 271.6,256.0 272.8,256.9 274.0,257.8 275.2,258.7 276.4,259.6 277.6,260.6 278.7,261.5 279.9,262.5 281.0,263.5 282.1,264.5 283.3,265.5 284.4,266.5 285.5,267.5 286.6,268.6 287.6,269.6 288.7,270.7 289.8,271.8 290.8,272.8 291.8,273.9 292.9,275.1 293.9,276.2 294.9,277.3 295.8,278.4 296.8,279.6 297.8,280.7 298.7,281.9 299.7,283.1 300.6,284.3 301.5,285.5 302.4,286.7 303.3,287.9 304.1,289.1 305.0,290.4 305.8,291.6 306.7,292.9 307.5,294.1 308.3,295.4 309.1,296.7 309.9,298.0 310.6,299.3 311.4,300.6 312.1,301.9 312.9,303.2 313.6,304.5 314.3,305.9 315.0,307.2 315.7,308.5 316.3,309.9 317.0,311.2 317.6,312.6 318.3,314.0 318.9,315.3 319.5,316.7 320.1,318.1 320.7,319.5 321.3,320.9 321.8,322.3 322.4,323.7 322.9,325.1" fill="none" stroke="#1a1aff" stroke-width="0.9"/>
<polyline points="36.0,214.4 37.5,214.6 39.0,214.8 40.5,215.0 42.0,215.1 43.6,215.3 45.1,215.5 46.6,215.7 48.1,215.8 49.6,216.0 51.1,216.2 52.6,216.4 54.1,216.6 55.6,216.8 57.1,217.0 58.6,217.2 60.1,217.4 61.6,217.6 63.1,217.8 64.7,218.0 66.2,218.2 67.7,218.4 69.2,218.7 70.7,218.9 72.2,219.1 73.7,219.3 75.2,219.5 76.7,219.8 78.2,220.0 79.7,220.2 81.2,220.5 82.7,220.7 84.2,221.0 85.7,221.2 87.2,221.5 88.7,221.7 90.2,222.0 91.7,222.2 93.2,222.5 94.7,222.8 96.2,223.0 97.7,223.3 99.2,223.6 100.7,223.8 102.1,224.1 103.6,224.4 105.1,224.7 106.6,225.0 108.1,225.3 109.6,225.6 111.1,225.9 112.6,226.2 114.1,226.5 115.6,226.8 117.1,227.1 118.5,227.4 120.0,227.7 121.5,228.1 123.0,228.4 124.5,228.7 126.0,229.1 127.4,229.4 128.9,229.7 130.4,230.1" fill="none" stroke="#1a1aff" stroke-width="0.9"/>
<polyline points="155.2,236.6 156.6,237.0 158.1,237.4 159.5,237.9 161.0,238.3 162.4,238.7 163.8,239.2 165.3,239.6 166.7,240.1 168.1,240.5 169.6,241.0 171.0,241.5 172.4,242.0 173.8,242.4 175.3,242.9 176.7,243.4 178.1,243.9 179.5,244.4 180.9,244.9 182.4,245.4 183.8,246.0 185.2,246.5 186.6,247.0 188.0,247.6 189.4,248.1 190.8,248.7 192.2,249.2 193.6,249.8 195.0,250.4 196.3,251.0 197.7,251.5 199.1,252.1 200.5,252.7 201.9,253.3 203.2,254.0 204.6,254.6 206.0,255.2 207.3,255.8 208.7,256.5 210.0,257.1 211.4,257.8 212.7,258.5 214.1,259.1 215.4,259.8 216.8,260.5 218.1,261.2 219.4,261.9 220.8,262.6 222.1,263.4 223.4,264.1 224.7,264.8 226.0,265.6 227.3,266.3 228.6,267.1 229.9,267.9 231.2,268.6 232.4,269.4 233.7,270.2 235.0,271.1 236.2,271.9 237.5,272.7 238.7,273.5 240.0,274.4 241.2,275.2 242.5,276.1 243.7,277.0 244.9,277.9 246.1,278.8 247.3,279.7 248.5,280.6 249.7,281.5 250.9,282.4 252.0,283.4 253.2,284.3 254.3,285.3 255.5,286.3 256.6,287.3 257.8,288.2 258.9,289.3 260.0,290.3 261.1,291.3 262.2,292.3 263.3,293.4 264.3,294.4 265.4,295.5 266.5,296.6 267.5,297.6 268.5,298.7 269.6,299.8 270.6,300.9 271.6,302.1 272.6,303.2 273.6,304.3 274.5,305.5 275.5,306.6 276.4,307.8 277.4,309.0 278.3,310.2 279.2,311.4 280.1,312.6 281.0,313.8 281.9,315.0 282.8,316.2 283.6,317.4 284.5,318.7 285.3,319.9 286.1,321.2 286.9,322.5 287.7,323.7 288.5,325.0" fill="none" stroke="#1a1aff" stroke-width="0.9"/>
</g>
<text x="317.0" y="185.1" fill="#777777" stroke="#777777" stroke-width="0" font-family="Liberation Sans" font-size="10" text-anchor="middle" textLength="35.5" lengthAdjust="spacingAndGlyphs">100 <tspan font-style="italic">μ</tspan>as</text>
<text x="98.5" y="263.5" fill="#777777" stroke="#777777" stroke-width="0" font-family="Liberation Sans" font-size="10" text-anchor="middle" textLength="35.5" lengthAdjust="spacingAndGlyphs">125 <tspan font-style="italic">μ</tspan>as</text>
<text x="325.0" y="231.0" fill="#0000ff" stroke="#0000ff" stroke-width="0.3" font-family="Liberation Sans" font-size="9.9" text-anchor="middle" textLength="16.0" lengthAdjust="spacingAndGlyphs">105</text>
<text x="298.2" y="243.5" fill="#0000ff" stroke="#0000ff" stroke-width="0.3" font-family="Liberation Sans" font-size="9.9" text-anchor="middle" textLength="16.0" lengthAdjust="spacingAndGlyphs">110</text>
<text x="215.4" y="230.6" fill="#0000ff" stroke="#0000ff" stroke-width="0.3" font-family="Liberation Sans" font-size="9.9" text-anchor="middle" textLength="16.0" lengthAdjust="spacingAndGlyphs">115</text>
<text x="143.1" y="236.0" fill="#0000ff" stroke="#0000ff" stroke-width="0.3" font-family="Liberation Sans" font-size="9.9" text-anchor="middle" textLength="16.0" lengthAdjust="spacingAndGlyphs">120</text>
<rect x="40.0" y="6.3" width="305.5" height="311.09999999999997" fill="none" stroke="#808080" stroke-width="1"/>
<path d="M40.4,317.4v-3.5M40.4,6.3v3.5M57.6,317.4v-2M57.6,6.3v2M74.7,317.4v-2M74.7,6.3v2M91.8,317.4v-2M91.8,6.3v2M109.0,317.4v-3.5M109.0,6.3v3.5M126.2,317.4v-2M126.2,6.3v2M143.3,317.4v-2M143.3,6.3v2M160.5,317.4v-2M160.5,6.3v2M177.6,317.4v-3.5M177.6,6.3v3.5M194.8,317.4v-2M194.8,6.3v2M211.9,317.4v-2M211.9,6.3v2M229.1,317.4v-2M229.1,6.3v2M246.2,317.4v-3.5M246.2,6.3v3.5M263.3,317.4v-2M263.3,6.3v2M280.5,317.4v-2M280.5,6.3v2M297.6,317.4v-2M297.6,6.3v2M314.8,317.4v-3.5M314.8,6.3v3.5M331.9,317.4v-2M331.9,6.3v2M40.0,317.4h3.5M345.5,317.4h-3.5M40.0,294.0h2M345.5,294.0h-2M40.0,280.3h2M345.5,280.3h-2M40.0,270.6h2M345.5,270.6h-2M40.0,263.0h2M345.5,263.0h-2M40.0,256.9h2M345.5,256.9h-2M40.0,251.7h2M345.5,251.7h-2M40.0,247.2h2M345.5,247.2h-2M40.0,243.2h2M345.5,243.2h-2M40.0,239.6h3.5M345.5,239.6h-3.5M40.0,216.2h2M345.5,216.2h-2M40.0,202.5h2M345.5,202.5h-2M40.0,192.8h2M345.5,192.8h-2M40.0,185.3h2M345.5,185.3h-2M40.0,179.1h2M345.5,179.1h-2M40.0,173.9h2M345.5,173.9h-2M40.0,169.4h2M345.5,169.4h-2M40.0,165.4h2M345.5,165.4h-2M40.0,161.8h3.5M345.5,161.8h-3.5M40.0,138.4h2M345.5,138.4h-2M40.0,124.7h2M345.5,124.7h-2M40.0,115.0h2M345.5,115.0h-2M40.0,107.5h2M345.5,107.5h-2M40.0,101.3h2M345.5,101.3h-2M40.0,96.1h2M345.5,96.1h-2M40.0,91.6h2M345.5,91.6h-2M40.0,87.6h2M345.5,87.6h-2M40.0,84.1h3.5M345.5,84.1h-3.5M40.0,60.7h2M345.5,60.7h-2M40.0,47.0h2M345.5,47.0h-2M40.0,37.2h2M345.5,37.2h-2M40.0,29.7h2M345.5,29.7h-2M40.0,23.6h2M345.5,23.6h-2M40.0,18.3h2M345.5,18.3h-2M40.0,13.8h2M345.5,13.8h-2M40.0,9.9h2M345.5,9.9h-2" stroke="#808080" stroke-width="0.8" fill="none"/>
<text x="40.4" y="332.3" font-family="Liberation Serif" font-size="14" text-anchor="middle" fill="#222222" textLength="18.6" lengthAdjust="spacingAndGlyphs">1.0</text>
<text x="109.0" y="332.3" font-family="Liberation Serif" font-size="14" text-anchor="middle" fill="#222222" textLength="18.6" lengthAdjust="spacingAndGlyphs">1.2</text>
<text x="177.6" y="332.3" font-family="Liberation Serif" font-size="14" text-anchor="middle" fill="#222222" textLength="18.6" lengthAdjust="spacingAndGlyphs">1.4</text>
<text x="246.2" y="332.3" font-family="Liberation Serif" font-size="14" text-anchor="middle" fill="#222222" textLength="18.6" lengthAdjust="spacingAndGlyphs">1.6</text>
<text x="314.8" y="332.3" font-family="Liberation Serif" font-size="14" text-anchor="middle" fill="#222222" textLength="18.6" lengthAdjust="spacingAndGlyphs">1.8</text>
<text x="29.4" y="322.5" font-family="Liberation Serif" font-size="14" text-anchor="end" fill="#222222" textLength="12.8" lengthAdjust="spacingAndGlyphs">10</text>
<text x="29.7" y="317.9" font-family="Liberation Serif" font-size="10.3" fill="#222222" textLength="5.6" lengthAdjust="spacingAndGlyphs">1</text>
<text x="29.4" y="244.7" font-family="Liberation Serif" font-size="14" text-anchor="end" fill="#222222" textLength="12.8" lengthAdjust="spacingAndGlyphs">10</text>
<text x="29.7" y="240.1" font-family="Liberation Serif" font-size="10.3" fill="#222222" textLength="5.6" lengthAdjust="spacingAndGlyphs">2</text>
<text x="29.4" y="166.9" font-family="Liberation Serif" font-size="14" text-anchor="end" fill="#222222" textLength="12.8" lengthAdjust="spacingAndGlyphs">10</text>
<text x="29.7" y="162.3" font-family="Liberation Serif" font-size="10.3" fill="#222222" textLength="5.6" lengthAdjust="spacingAndGlyphs">3</text>
<text x="29.4" y="89.2" font-family="Liberation Serif" font-size="14" text-anchor="end" fill="#222222" textLength="12.8" lengthAdjust="spacingAndGlyphs">10</text>
<text x="29.7" y="84.6" font-family="Liberation Serif" font-size="10.3" fill="#222222" textLength="5.6" lengthAdjust="spacingAndGlyphs">4</text>
<text x="29.4" y="11.4" font-family="Liberation Serif" font-size="14" text-anchor="end" fill="#222222" textLength="12.8" lengthAdjust="spacingAndGlyphs">10</text>
<text x="29.7" y="6.8" font-family="Liberation Serif" font-size="10.3" fill="#222222" textLength="5.6" lengthAdjust="spacingAndGlyphs">5</text>
<text x="193.4" y="344.6" font-family="Liberation Serif" font-size="13.8" text-anchor="middle" fill="#333" textLength="127.8" lengthAdjust="spacingAndGlyphs">Power-Law Index <tspan font-family="Liberation Sans" font-style="italic" font-size="12.8" stroke="#222222" stroke-width="0.2">α</tspan></text>
<text transform="translate(9.5,161.8) rotate(-90)" x="0" y="0" font-family="Liberation Serif" font-size="13.4" text-anchor="middle" fill="#333" textLength="108" lengthAdjust="spacingAndGlyphs">Inner Scale (km)</text>
</svg></body></html>
